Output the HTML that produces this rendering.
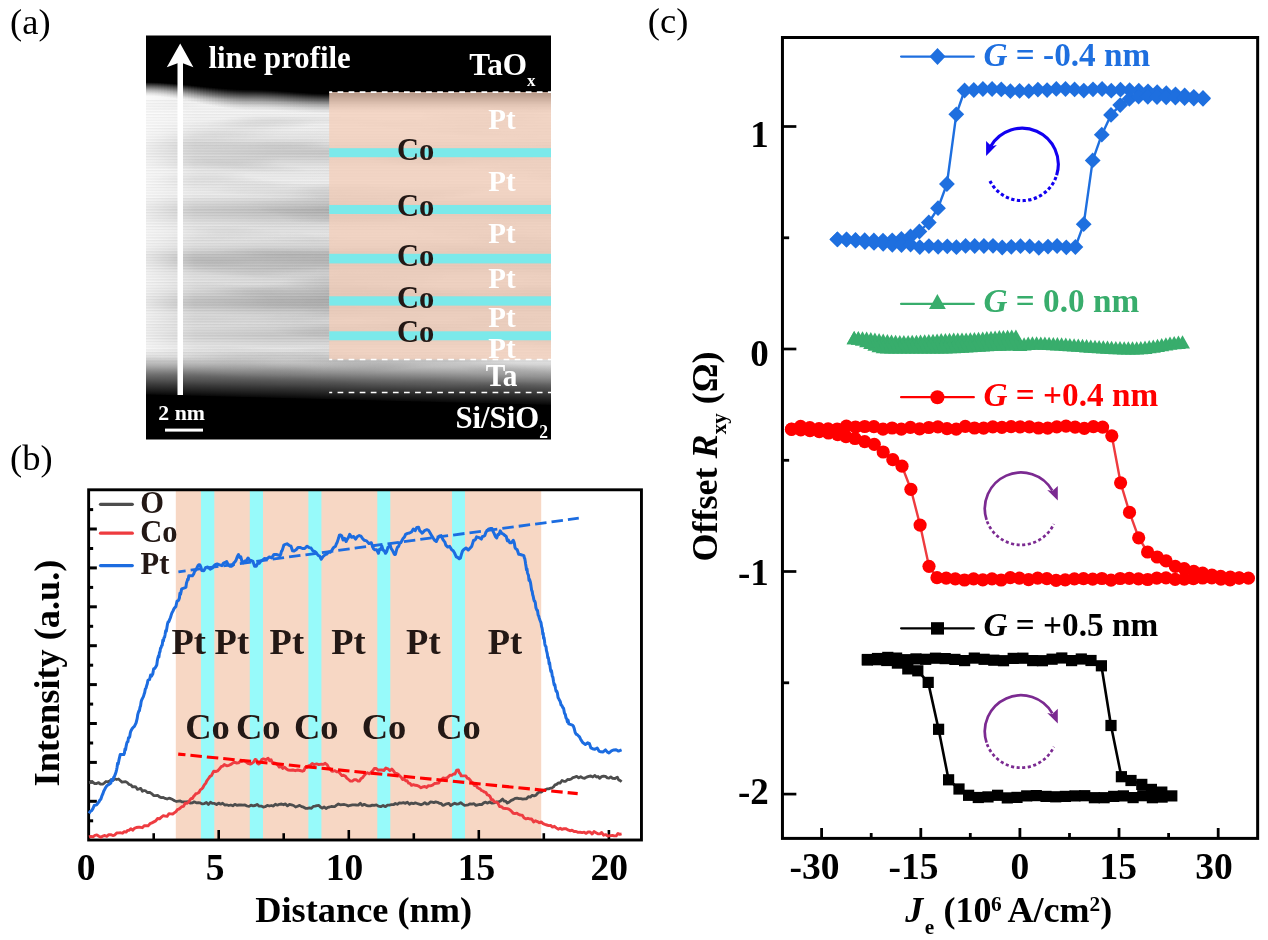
<!DOCTYPE html>
<html><head><meta charset="utf-8"><title>figure</title>
<style>html,body{margin:0;padding:0;background:#fff;}svg{display:block;opacity:0.999;}text{font-family:"Liberation Serif",serif;}</style></head><body>
<svg width="1268" height="940" viewBox="0 0 1268 940">

<defs>
<linearGradient id="temg" x1="0" y1="80" x2="0" y2="402" gradientUnits="userSpaceOnUse">
<stop offset="0.0000" stop-color="rgb(236,236,236)"/>
<stop offset="0.0870" stop-color="rgb(242,242,242)"/>
<stop offset="0.1398" stop-color="rgb(240,240,240)"/>
<stop offset="0.1801" stop-color="rgb(234,234,234)"/>
<stop offset="0.2050" stop-color="rgb(214,214,214)"/>
<stop offset="0.2236" stop-color="rgb(198,198,198)"/>
<stop offset="0.2422" stop-color="rgb(208,208,208)"/>
<stop offset="0.2671" stop-color="rgb(228,228,228)"/>
<stop offset="0.3106" stop-color="rgb(238,238,238)"/>
<stop offset="0.3571" stop-color="rgb(230,230,230)"/>
<stop offset="0.3820" stop-color="rgb(204,204,204)"/>
<stop offset="0.4037" stop-color="rgb(186,186,186)"/>
<stop offset="0.4224" stop-color="rgb(196,196,196)"/>
<stop offset="0.4472" stop-color="rgb(218,218,218)"/>
<stop offset="0.4814" stop-color="rgb(230,230,230)"/>
<stop offset="0.5155" stop-color="rgb(212,212,212)"/>
<stop offset="0.5404" stop-color="rgb(186,186,186)"/>
<stop offset="0.5590" stop-color="rgb(178,178,178)"/>
<stop offset="0.5776" stop-color="rgb(188,188,188)"/>
<stop offset="0.6056" stop-color="rgb(212,212,212)"/>
<stop offset="0.6366" stop-color="rgb(218,218,218)"/>
<stop offset="0.6615" stop-color="rgb(196,196,196)"/>
<stop offset="0.6832" stop-color="rgb(174,174,174)"/>
<stop offset="0.7019" stop-color="rgb(180,180,180)"/>
<stop offset="0.7267" stop-color="rgb(206,206,206)"/>
<stop offset="0.7516" stop-color="rgb(216,216,216)"/>
<stop offset="0.7733" stop-color="rgb(206,206,206)"/>
<stop offset="0.7919" stop-color="rgb(196,196,196)"/>
<stop offset="0.8106" stop-color="rgb(208,208,208)"/>
<stop offset="0.8323" stop-color="rgb(228,228,228)"/>
<stop offset="0.8634" stop-color="rgb(234,234,234)"/>
<stop offset="1.0000" stop-color="rgb(228,228,228)"/>
</linearGradient>
<linearGradient id="temh" x1="146" y1="0" x2="551" y2="0" gradientUnits="userSpaceOnUse">
<stop offset="0" stop-color="#fff" stop-opacity="0.75"/>
<stop offset="0.05" stop-color="#fff" stop-opacity="0.55"/>
<stop offset="0.12" stop-color="#fff" stop-opacity="0.25"/>
<stop offset="0.3" stop-color="#fff" stop-opacity="0.08"/>
<stop offset="0.5" stop-color="#fff" stop-opacity="0"/>
<stop offset="1" stop-color="#fff" stop-opacity="0"/>
</linearGradient>
<linearGradient id="fadeT" x1="250" y1="81" x2="249.2" y2="109" gradientUnits="userSpaceOnUse">
<stop offset="0" stop-color="#000" stop-opacity="1"/>
<stop offset="0.15" stop-color="#000" stop-opacity="0.97"/>
<stop offset="0.4" stop-color="#000" stop-opacity="0.6"/>
<stop offset="0.7" stop-color="#000" stop-opacity="0.18"/>
<stop offset="1" stop-color="#000" stop-opacity="0"/>
</linearGradient>
<linearGradient id="fadeU" x1="0" y1="0" x2="0" y2="1">
<stop offset="0" stop-color="#000" stop-opacity="1"/>
<stop offset="0.12" stop-color="#000" stop-opacity="0.94"/>
<stop offset="0.35" stop-color="#000" stop-opacity="0.62"/>
<stop offset="0.6" stop-color="#000" stop-opacity="0.3"/>
<stop offset="0.82" stop-color="#000" stop-opacity="0.1"/>
<stop offset="1" stop-color="#000" stop-opacity="0"/>
</linearGradient>
<linearGradient id="fadeD" x1="0" y1="0" x2="0" y2="1">
<stop offset="0" stop-color="#000" stop-opacity="0"/>
<stop offset="0.15" stop-color="#000" stop-opacity="0.08"/>
<stop offset="0.35" stop-color="#000" stop-opacity="0.3"/>
<stop offset="0.55" stop-color="#000" stop-opacity="0.55"/>
<stop offset="0.75" stop-color="#000" stop-opacity="0.76"/>
<stop offset="0.9" stop-color="#000" stop-opacity="0.9"/>
<stop offset="1" stop-color="#000" stop-opacity="1"/>
</linearGradient>
<linearGradient id="fadeB" x1="348.5" y1="353" x2="347.7" y2="400" gradientUnits="userSpaceOnUse">
<stop offset="0" stop-color="#000" stop-opacity="0"/>
<stop offset="0.25" stop-color="#000" stop-opacity="0.12"/>
<stop offset="0.5" stop-color="#000" stop-opacity="0.4"/>
<stop offset="0.75" stop-color="#000" stop-opacity="0.78"/>
<stop offset="0.92" stop-color="#000" stop-opacity="0.97"/>
<stop offset="1" stop-color="#000" stop-opacity="1"/>
</linearGradient>
<pattern id="fringe" x="0" y="100" width="20" height="2.8" patternUnits="userSpaceOnUse">
<rect x="0" y="0" width="20" height="1.3" fill="#000" opacity="0.05"/>
<rect x="0" y="1.4" width="20" height="1.4" fill="#fff" opacity="0.08"/>
</pattern>
<filter id="streak" x="0" y="0" width="1" height="1" color-interpolation-filters="sRGB">
<feTurbulence type="fractalNoise" baseFrequency="0.007 0.06" numOctaves="2" seed="11" result="n"/>
<feColorMatrix in="n" type="matrix" values="0 0 0 0 0.3  0 0 0 0 0.3  0 0 0 0 0.3  1.6 0 0 0 -0.72"/>
</filter>
</defs>

<rect width="1268" height="940" fill="#fff"/>
<g id="pa">
<rect x="146" y="35.5" width="405" height="404.0" fill="#000"/>
<rect x="146" y="80" width="405" height="328" fill="url(#temg)"/>
<rect x="146" y="80" width="405" height="328" filter="url(#streak)" opacity="0.26"/>
<rect x="146" y="80" width="405" height="328" fill="url(#temh)"/>
<rect x="146" y="100" width="405" height="262" fill="url(#fringe)"/>
<rect x="146" y="76" width="3" height="6.60" fill="#000"/>
<rect x="146" y="81.00" width="3" height="15.00" fill="url(#fadeU)"/>
<rect x="149" y="76" width="3" height="6.64" fill="#000"/>
<rect x="149" y="81.04" width="3" height="15.04" fill="url(#fadeU)"/>
<rect x="152" y="76" width="3" height="6.71" fill="#000"/>
<rect x="152" y="81.11" width="3" height="15.10" fill="url(#fadeU)"/>
<rect x="155" y="76" width="3" height="6.81" fill="#000"/>
<rect x="155" y="81.21" width="3" height="15.19" fill="url(#fadeU)"/>
<rect x="158" y="76" width="3" height="6.95" fill="#000"/>
<rect x="158" y="81.35" width="3" height="15.30" fill="url(#fadeU)"/>
<rect x="161" y="76" width="3" height="7.11" fill="#000"/>
<rect x="161" y="81.51" width="3" height="15.44" fill="url(#fadeU)"/>
<rect x="164" y="76" width="3" height="7.29" fill="#000"/>
<rect x="164" y="81.69" width="3" height="15.60" fill="url(#fadeU)"/>
<rect x="167" y="76" width="3" height="7.50" fill="#000"/>
<rect x="167" y="81.90" width="3" height="15.78" fill="url(#fadeU)"/>
<rect x="170" y="76" width="3" height="7.73" fill="#000"/>
<rect x="170" y="82.13" width="3" height="15.98" fill="url(#fadeU)"/>
<rect x="173" y="76" width="3" height="7.98" fill="#000"/>
<rect x="173" y="82.38" width="3" height="16.20" fill="url(#fadeU)"/>
<rect x="176" y="76" width="3" height="8.25" fill="#000"/>
<rect x="176" y="82.65" width="3" height="16.43" fill="url(#fadeU)"/>
<rect x="179" y="76" width="3" height="8.53" fill="#000"/>
<rect x="179" y="82.93" width="3" height="16.67" fill="url(#fadeU)"/>
<rect x="182" y="76" width="3" height="8.82" fill="#000"/>
<rect x="182" y="83.22" width="3" height="16.93" fill="url(#fadeU)"/>
<rect x="185" y="76" width="3" height="9.13" fill="#000"/>
<rect x="185" y="83.53" width="3" height="17.19" fill="url(#fadeU)"/>
<rect x="188" y="76" width="3" height="9.44" fill="#000"/>
<rect x="188" y="83.84" width="3" height="17.46" fill="url(#fadeU)"/>
<rect x="191" y="76" width="3" height="9.76" fill="#000"/>
<rect x="191" y="84.16" width="3" height="17.74" fill="url(#fadeU)"/>
<rect x="194" y="76" width="3" height="10.08" fill="#000"/>
<rect x="194" y="84.48" width="3" height="18.02" fill="url(#fadeU)"/>
<rect x="197" y="76" width="3" height="10.40" fill="#000"/>
<rect x="197" y="84.80" width="3" height="18.30" fill="url(#fadeU)"/>
<rect x="200" y="76" width="3" height="10.73" fill="#000"/>
<rect x="200" y="85.13" width="3" height="18.58" fill="url(#fadeU)"/>
<rect x="203" y="76" width="3" height="11.05" fill="#000"/>
<rect x="203" y="85.45" width="3" height="18.86" fill="url(#fadeU)"/>
<rect x="206" y="76" width="3" height="11.37" fill="#000"/>
<rect x="206" y="85.77" width="3" height="19.13" fill="url(#fadeU)"/>
<rect x="209" y="76" width="3" height="11.68" fill="#000"/>
<rect x="209" y="86.08" width="3" height="19.40" fill="url(#fadeU)"/>
<rect x="212" y="76" width="3" height="11.98" fill="#000"/>
<rect x="212" y="86.38" width="3" height="19.66" fill="url(#fadeU)"/>
<rect x="215" y="76" width="3" height="12.27" fill="#000"/>
<rect x="215" y="86.67" width="3" height="19.91" fill="url(#fadeU)"/>
<rect x="218" y="76" width="3" height="12.54" fill="#000"/>
<rect x="218" y="86.94" width="3" height="20.15" fill="url(#fadeU)"/>
<rect x="221" y="76" width="3" height="12.80" fill="#000"/>
<rect x="221" y="87.20" width="3" height="20.38" fill="url(#fadeU)"/>
<rect x="224" y="76" width="3" height="13.05" fill="#000"/>
<rect x="224" y="87.45" width="3" height="20.59" fill="url(#fadeU)"/>
<rect x="227" y="76" width="3" height="13.27" fill="#000"/>
<rect x="227" y="87.67" width="3" height="20.78" fill="url(#fadeU)"/>
<rect x="230" y="76" width="3" height="13.47" fill="#000"/>
<rect x="230" y="87.87" width="3" height="20.96" fill="url(#fadeU)"/>
<rect x="233" y="76" width="3" height="13.65" fill="#000"/>
<rect x="233" y="88.05" width="3" height="21.11" fill="url(#fadeU)"/>
<rect x="236" y="76" width="3" height="13.80" fill="#000"/>
<rect x="236" y="88.20" width="3" height="21.24" fill="url(#fadeU)"/>
<rect x="239" y="76" width="3" height="13.92" fill="#000"/>
<rect x="239" y="88.32" width="3" height="21.35" fill="url(#fadeU)"/>
<rect x="242" y="76" width="3" height="14.02" fill="#000"/>
<rect x="242" y="88.42" width="3" height="21.43" fill="url(#fadeU)"/>
<rect x="245" y="76" width="3" height="14.08" fill="#000"/>
<rect x="245" y="88.48" width="3" height="21.48" fill="url(#fadeU)"/>
<rect x="248" y="76" width="3" height="14.10" fill="#000"/>
<rect x="248" y="88.50" width="3" height="21.50" fill="url(#fadeU)"/>
<rect x="251" y="76" width="3" height="14.11" fill="#000"/>
<rect x="251" y="88.51" width="3" height="21.50" fill="url(#fadeU)"/>
<rect x="254" y="76" width="3" height="14.15" fill="#000"/>
<rect x="254" y="88.55" width="3" height="21.49" fill="url(#fadeU)"/>
<rect x="257" y="76" width="3" height="14.23" fill="#000"/>
<rect x="257" y="88.63" width="3" height="21.47" fill="url(#fadeU)"/>
<rect x="260" y="76" width="3" height="14.32" fill="#000"/>
<rect x="260" y="88.72" width="3" height="21.44" fill="url(#fadeU)"/>
<rect x="263" y="76" width="3" height="14.45" fill="#000"/>
<rect x="263" y="88.85" width="3" height="21.41" fill="url(#fadeU)"/>
<rect x="266" y="76" width="3" height="14.59" fill="#000"/>
<rect x="266" y="88.99" width="3" height="21.38" fill="url(#fadeU)"/>
<rect x="269" y="76" width="3" height="14.75" fill="#000"/>
<rect x="269" y="89.15" width="3" height="21.34" fill="url(#fadeU)"/>
<rect x="272" y="76" width="3" height="14.93" fill="#000"/>
<rect x="272" y="89.33" width="3" height="21.29" fill="url(#fadeU)"/>
<rect x="275" y="76" width="3" height="15.13" fill="#000"/>
<rect x="275" y="89.53" width="3" height="21.24" fill="url(#fadeU)"/>
<rect x="278" y="76" width="3" height="15.33" fill="#000"/>
<rect x="278" y="89.73" width="3" height="21.19" fill="url(#fadeU)"/>
<rect x="281" y="76" width="3" height="15.54" fill="#000"/>
<rect x="281" y="89.94" width="3" height="21.14" fill="url(#fadeU)"/>
<rect x="284" y="76" width="3" height="15.76" fill="#000"/>
<rect x="284" y="90.16" width="3" height="21.08" fill="url(#fadeU)"/>
<rect x="287" y="76" width="3" height="15.99" fill="#000"/>
<rect x="287" y="90.39" width="3" height="21.03" fill="url(#fadeU)"/>
<rect x="290" y="76" width="3" height="16.21" fill="#000"/>
<rect x="290" y="90.61" width="3" height="20.97" fill="url(#fadeU)"/>
<rect x="293" y="76" width="3" height="16.44" fill="#000"/>
<rect x="293" y="90.84" width="3" height="20.92" fill="url(#fadeU)"/>
<rect x="296" y="76" width="3" height="16.66" fill="#000"/>
<rect x="296" y="91.06" width="3" height="20.86" fill="url(#fadeU)"/>
<rect x="299" y="76" width="3" height="16.87" fill="#000"/>
<rect x="299" y="91.27" width="3" height="20.81" fill="url(#fadeU)"/>
<rect x="302" y="76" width="3" height="17.07" fill="#000"/>
<rect x="302" y="91.47" width="3" height="20.76" fill="url(#fadeU)"/>
<rect x="305" y="76" width="3" height="17.27" fill="#000"/>
<rect x="305" y="91.67" width="3" height="20.71" fill="url(#fadeU)"/>
<rect x="308" y="76" width="3" height="17.45" fill="#000"/>
<rect x="308" y="91.85" width="3" height="20.66" fill="url(#fadeU)"/>
<rect x="311" y="76" width="3" height="17.61" fill="#000"/>
<rect x="311" y="92.01" width="3" height="20.62" fill="url(#fadeU)"/>
<rect x="314" y="76" width="3" height="17.75" fill="#000"/>
<rect x="314" y="92.15" width="3" height="20.59" fill="url(#fadeU)"/>
<rect x="317" y="76" width="3" height="17.88" fill="#000"/>
<rect x="317" y="92.28" width="3" height="20.56" fill="url(#fadeU)"/>
<rect x="320" y="76" width="3" height="17.97" fill="#000"/>
<rect x="320" y="92.37" width="3" height="20.53" fill="url(#fadeU)"/>
<rect x="323" y="76" width="3" height="18.05" fill="#000"/>
<rect x="323" y="92.45" width="3" height="20.51" fill="url(#fadeU)"/>
<rect x="326" y="76" width="3" height="18.09" fill="#000"/>
<rect x="326" y="92.49" width="3" height="20.50" fill="url(#fadeU)"/>
<rect x="329" y="76" width="222" height="18.10" fill="#000"/>
<rect x="329" y="92.50" width="222" height="20.50" fill="url(#fadeU)"/>
<rect x="146" y="349.05" width="5" height="47.02" fill="url(#fadeD)"/>
<rect x="146" y="394.56" width="5" height="17.44" fill="#000"/>
<rect x="151" y="349.15" width="5" height="47.05" fill="url(#fadeD)"/>
<rect x="151" y="394.69" width="5" height="17.31" fill="#000"/>
<rect x="156" y="349.25" width="5" height="47.08" fill="url(#fadeD)"/>
<rect x="156" y="394.82" width="5" height="17.18" fill="#000"/>
<rect x="161" y="349.35" width="5" height="47.11" fill="url(#fadeD)"/>
<rect x="161" y="394.95" width="5" height="17.05" fill="#000"/>
<rect x="166" y="349.44" width="5" height="47.14" fill="url(#fadeD)"/>
<rect x="166" y="395.08" width="5" height="16.92" fill="#000"/>
<rect x="171" y="349.54" width="5" height="47.17" fill="url(#fadeD)"/>
<rect x="171" y="395.21" width="5" height="16.79" fill="#000"/>
<rect x="176" y="349.64" width="5" height="47.20" fill="url(#fadeD)"/>
<rect x="176" y="395.34" width="5" height="16.66" fill="#000"/>
<rect x="181" y="349.74" width="5" height="47.23" fill="url(#fadeD)"/>
<rect x="181" y="395.47" width="5" height="16.53" fill="#000"/>
<rect x="186" y="349.84" width="5" height="47.26" fill="url(#fadeD)"/>
<rect x="186" y="395.60" width="5" height="16.40" fill="#000"/>
<rect x="191" y="349.94" width="5" height="47.29" fill="url(#fadeD)"/>
<rect x="191" y="395.73" width="5" height="16.27" fill="#000"/>
<rect x="196" y="350.04" width="5" height="47.32" fill="url(#fadeD)"/>
<rect x="196" y="395.86" width="5" height="16.14" fill="#000"/>
<rect x="201" y="350.14" width="5" height="47.35" fill="url(#fadeD)"/>
<rect x="201" y="395.99" width="5" height="16.01" fill="#000"/>
<rect x="206" y="350.23" width="5" height="47.39" fill="url(#fadeD)"/>
<rect x="206" y="396.12" width="5" height="15.88" fill="#000"/>
<rect x="211" y="350.33" width="5" height="47.42" fill="url(#fadeD)"/>
<rect x="211" y="396.25" width="5" height="15.75" fill="#000"/>
<rect x="216" y="350.43" width="5" height="47.45" fill="url(#fadeD)"/>
<rect x="216" y="396.38" width="5" height="15.62" fill="#000"/>
<rect x="221" y="350.53" width="5" height="47.48" fill="url(#fadeD)"/>
<rect x="221" y="396.51" width="5" height="15.49" fill="#000"/>
<rect x="226" y="350.63" width="5" height="47.51" fill="url(#fadeD)"/>
<rect x="226" y="396.64" width="5" height="15.36" fill="#000"/>
<rect x="231" y="350.73" width="5" height="47.54" fill="url(#fadeD)"/>
<rect x="231" y="396.77" width="5" height="15.23" fill="#000"/>
<rect x="236" y="350.83" width="5" height="47.57" fill="url(#fadeD)"/>
<rect x="236" y="396.90" width="5" height="15.10" fill="#000"/>
<rect x="241" y="350.93" width="5" height="47.60" fill="url(#fadeD)"/>
<rect x="241" y="397.03" width="5" height="14.97" fill="#000"/>
<rect x="246" y="351.02" width="5" height="47.63" fill="url(#fadeD)"/>
<rect x="246" y="397.16" width="5" height="14.84" fill="#000"/>
<rect x="251" y="351.12" width="5" height="47.66" fill="url(#fadeD)"/>
<rect x="251" y="397.29" width="5" height="14.71" fill="#000"/>
<rect x="256" y="351.22" width="5" height="47.69" fill="url(#fadeD)"/>
<rect x="256" y="397.42" width="5" height="14.58" fill="#000"/>
<rect x="261" y="351.32" width="5" height="47.73" fill="url(#fadeD)"/>
<rect x="261" y="397.55" width="5" height="14.45" fill="#000"/>
<rect x="266" y="351.42" width="5" height="47.76" fill="url(#fadeD)"/>
<rect x="266" y="397.68" width="5" height="14.32" fill="#000"/>
<rect x="271" y="351.52" width="5" height="47.79" fill="url(#fadeD)"/>
<rect x="271" y="397.81" width="5" height="14.19" fill="#000"/>
<rect x="276" y="351.62" width="5" height="47.82" fill="url(#fadeD)"/>
<rect x="276" y="397.94" width="5" height="14.06" fill="#000"/>
<rect x="281" y="351.72" width="5" height="47.85" fill="url(#fadeD)"/>
<rect x="281" y="398.06" width="5" height="13.94" fill="#000"/>
<rect x="286" y="351.81" width="5" height="47.88" fill="url(#fadeD)"/>
<rect x="286" y="398.19" width="5" height="13.81" fill="#000"/>
<rect x="291" y="351.91" width="5" height="47.91" fill="url(#fadeD)"/>
<rect x="291" y="398.32" width="5" height="13.68" fill="#000"/>
<rect x="296" y="352.01" width="5" height="47.94" fill="url(#fadeD)"/>
<rect x="296" y="398.45" width="5" height="13.55" fill="#000"/>
<rect x="301" y="352.11" width="5" height="47.97" fill="url(#fadeD)"/>
<rect x="301" y="398.58" width="5" height="13.42" fill="#000"/>
<rect x="306" y="352.21" width="5" height="48.00" fill="url(#fadeD)"/>
<rect x="306" y="398.71" width="5" height="13.29" fill="#000"/>
<rect x="311" y="352.31" width="5" height="48.03" fill="url(#fadeD)"/>
<rect x="311" y="398.84" width="5" height="13.16" fill="#000"/>
<rect x="316" y="352.41" width="5" height="48.06" fill="url(#fadeD)"/>
<rect x="316" y="398.97" width="5" height="13.03" fill="#000"/>
<rect x="321" y="352.51" width="5" height="48.10" fill="url(#fadeD)"/>
<rect x="321" y="399.10" width="5" height="12.90" fill="#000"/>
<rect x="326" y="352.60" width="5" height="48.13" fill="url(#fadeD)"/>
<rect x="326" y="399.23" width="5" height="12.77" fill="#000"/>
<rect x="331" y="352.70" width="5" height="48.16" fill="url(#fadeD)"/>
<rect x="331" y="399.36" width="5" height="12.64" fill="#000"/>
<rect x="336" y="352.80" width="5" height="48.19" fill="url(#fadeD)"/>
<rect x="336" y="399.49" width="5" height="12.51" fill="#000"/>
<rect x="341" y="352.90" width="5" height="48.22" fill="url(#fadeD)"/>
<rect x="341" y="399.62" width="5" height="12.38" fill="#000"/>
<rect x="346" y="353.00" width="5" height="48.25" fill="url(#fadeD)"/>
<rect x="346" y="399.75" width="5" height="12.25" fill="#000"/>
<rect x="351" y="353.10" width="5" height="48.28" fill="url(#fadeD)"/>
<rect x="351" y="399.88" width="5" height="12.12" fill="#000"/>
<rect x="356" y="353.20" width="5" height="48.31" fill="url(#fadeD)"/>
<rect x="356" y="400.01" width="5" height="11.99" fill="#000"/>
<rect x="361" y="353.30" width="5" height="48.34" fill="url(#fadeD)"/>
<rect x="361" y="400.14" width="5" height="11.86" fill="#000"/>
<rect x="366" y="353.40" width="5" height="48.37" fill="url(#fadeD)"/>
<rect x="366" y="400.27" width="5" height="11.73" fill="#000"/>
<rect x="371" y="353.49" width="5" height="48.40" fill="url(#fadeD)"/>
<rect x="371" y="400.40" width="5" height="11.60" fill="#000"/>
<rect x="376" y="353.59" width="5" height="48.44" fill="url(#fadeD)"/>
<rect x="376" y="400.53" width="5" height="11.47" fill="#000"/>
<rect x="381" y="353.69" width="5" height="48.47" fill="url(#fadeD)"/>
<rect x="381" y="400.66" width="5" height="11.34" fill="#000"/>
<rect x="386" y="353.79" width="5" height="48.50" fill="url(#fadeD)"/>
<rect x="386" y="400.79" width="5" height="11.21" fill="#000"/>
<rect x="391" y="353.89" width="5" height="48.53" fill="url(#fadeD)"/>
<rect x="391" y="400.92" width="5" height="11.08" fill="#000"/>
<rect x="396" y="353.99" width="5" height="48.56" fill="url(#fadeD)"/>
<rect x="396" y="401.05" width="5" height="10.95" fill="#000"/>
<rect x="401" y="354.09" width="5" height="48.59" fill="url(#fadeD)"/>
<rect x="401" y="401.18" width="5" height="10.82" fill="#000"/>
<rect x="406" y="354.19" width="5" height="48.62" fill="url(#fadeD)"/>
<rect x="406" y="401.31" width="5" height="10.69" fill="#000"/>
<rect x="411" y="354.28" width="5" height="48.65" fill="url(#fadeD)"/>
<rect x="411" y="401.44" width="5" height="10.56" fill="#000"/>
<rect x="416" y="354.38" width="5" height="48.68" fill="url(#fadeD)"/>
<rect x="416" y="401.56" width="5" height="10.44" fill="#000"/>
<rect x="421" y="354.48" width="5" height="48.71" fill="url(#fadeD)"/>
<rect x="421" y="401.69" width="5" height="10.31" fill="#000"/>
<rect x="426" y="354.58" width="5" height="48.74" fill="url(#fadeD)"/>
<rect x="426" y="401.82" width="5" height="10.18" fill="#000"/>
<rect x="431" y="354.68" width="5" height="48.77" fill="url(#fadeD)"/>
<rect x="431" y="401.95" width="5" height="10.05" fill="#000"/>
<rect x="436" y="354.78" width="5" height="48.81" fill="url(#fadeD)"/>
<rect x="436" y="402.08" width="5" height="9.92" fill="#000"/>
<rect x="441" y="354.88" width="5" height="48.84" fill="url(#fadeD)"/>
<rect x="441" y="402.21" width="5" height="9.79" fill="#000"/>
<rect x="446" y="354.98" width="5" height="48.87" fill="url(#fadeD)"/>
<rect x="446" y="402.34" width="5" height="9.66" fill="#000"/>
<rect x="451" y="355.07" width="5" height="48.90" fill="url(#fadeD)"/>
<rect x="451" y="402.47" width="5" height="9.53" fill="#000"/>
<rect x="456" y="355.17" width="5" height="48.93" fill="url(#fadeD)"/>
<rect x="456" y="402.60" width="5" height="9.40" fill="#000"/>
<rect x="461" y="355.27" width="5" height="48.96" fill="url(#fadeD)"/>
<rect x="461" y="402.73" width="5" height="9.27" fill="#000"/>
<rect x="466" y="355.37" width="5" height="48.99" fill="url(#fadeD)"/>
<rect x="466" y="402.86" width="5" height="9.14" fill="#000"/>
<rect x="471" y="355.47" width="5" height="49.02" fill="url(#fadeD)"/>
<rect x="471" y="402.99" width="5" height="9.01" fill="#000"/>
<rect x="476" y="355.57" width="5" height="49.05" fill="url(#fadeD)"/>
<rect x="476" y="403.12" width="5" height="8.88" fill="#000"/>
<rect x="481" y="355.67" width="5" height="49.08" fill="url(#fadeD)"/>
<rect x="481" y="403.25" width="5" height="8.75" fill="#000"/>
<rect x="486" y="355.77" width="5" height="49.11" fill="url(#fadeD)"/>
<rect x="486" y="403.38" width="5" height="8.62" fill="#000"/>
<rect x="491" y="355.86" width="5" height="49.15" fill="url(#fadeD)"/>
<rect x="491" y="403.51" width="5" height="8.49" fill="#000"/>
<rect x="496" y="355.96" width="5" height="49.18" fill="url(#fadeD)"/>
<rect x="496" y="403.64" width="5" height="8.36" fill="#000"/>
<rect x="501" y="356.06" width="5" height="49.21" fill="url(#fadeD)"/>
<rect x="501" y="403.77" width="5" height="8.23" fill="#000"/>
<rect x="506" y="356.16" width="5" height="49.24" fill="url(#fadeD)"/>
<rect x="506" y="403.90" width="5" height="8.10" fill="#000"/>
<rect x="511" y="356.26" width="5" height="49.27" fill="url(#fadeD)"/>
<rect x="511" y="404.03" width="5" height="7.97" fill="#000"/>
<rect x="516" y="356.36" width="5" height="49.30" fill="url(#fadeD)"/>
<rect x="516" y="404.16" width="5" height="7.84" fill="#000"/>
<rect x="521" y="356.46" width="5" height="49.33" fill="url(#fadeD)"/>
<rect x="521" y="404.29" width="5" height="7.71" fill="#000"/>
<rect x="526" y="356.56" width="5" height="49.36" fill="url(#fadeD)"/>
<rect x="526" y="404.42" width="5" height="7.58" fill="#000"/>
<rect x="531" y="356.65" width="5" height="49.39" fill="url(#fadeD)"/>
<rect x="531" y="404.55" width="5" height="7.45" fill="#000"/>
<rect x="536" y="356.75" width="5" height="49.42" fill="url(#fadeD)"/>
<rect x="536" y="404.68" width="5" height="7.32" fill="#000"/>
<rect x="541" y="356.85" width="5" height="49.45" fill="url(#fadeD)"/>
<rect x="541" y="404.81" width="5" height="7.19" fill="#000"/>
<rect x="546" y="356.95" width="5" height="49.48" fill="url(#fadeD)"/>
<rect x="546" y="404.94" width="5" height="7.06" fill="#000"/>
<rect x="329.2" y="92" width="221.8" height="267.5" fill="rgb(245,207,185)" opacity="0.76"/>
<rect x="329.2" y="148.2" width="221.8" height="9.0" fill="#7BE9EA"/>
<rect x="329.2" y="205" width="221.8" height="9.0" fill="#7BE9EA"/>
<rect x="329.2" y="253.8" width="221.8" height="9.6" fill="#7BE9EA"/>
<rect x="329.2" y="296.3" width="221.8" height="9.3" fill="#7BE9EA"/>
<rect x="329.2" y="331.3" width="221.8" height="9.0" fill="#7BE9EA"/>
<line x1="329.2" y1="92.1" x2="551" y2="92.1" stroke="#fff" stroke-width="1.9" stroke-dasharray="5.7 5.37" stroke-dashoffset="2.7"/>
<line x1="329.2" y1="359.5" x2="551" y2="359.5" stroke="#fff" stroke-width="1.6" stroke-dasharray="5.7 5.37" stroke-dashoffset="2.7"/>
<line x1="329.2" y1="392.4" x2="551" y2="392.4" stroke="#fff" stroke-width="1.5" stroke-dasharray="5.7 5.37" stroke-dashoffset="2.7"/>
<rect x="177.5" y="62" width="5.5" height="333" fill="#fff"/>
<path d="M180.2 43.4 L193.4 67.2 L180.2 62.3 L166.8 67.2 Z" fill="#fff"/>
<rect x="165" y="428.6" width="38" height="3" fill="#fff"/>
<text x="158.3" y="419.6" font-size="21.8" font-weight="bold" fill="#fff" >2 nm</text>
<text x="208.5" y="68.3" font-size="30.8" font-weight="bold" fill="#fff" >line profile</text>
<text transform="translate(469.2,75.3) scale(1,1.04)" font-size="31.2" font-weight="bold" fill="#fff">TaO<tspan font-size="17" dy="10.2">x</tspan></text>
<text x="488.3" y="129" font-size="29" font-weight="bold" fill="#fff" >Pt</text>
<text x="488.3" y="190.5" font-size="29" font-weight="bold" fill="#fff" >Pt</text>
<text x="488.3" y="243.2" font-size="29" font-weight="bold" fill="#fff" >Pt</text>
<text x="488.3" y="288" font-size="29" font-weight="bold" fill="#fff" >Pt</text>
<text x="488.3" y="327" font-size="29" font-weight="bold" fill="#fff" >Pt</text>
<text x="488.3" y="358" font-size="29" font-weight="bold" fill="#fff" >Pt</text>
<text transform="translate(485.8,386.4) scale(0.97,1.07)" font-size="30.2" font-weight="bold" fill="#fff">Ta</text>
<text transform="translate(455.5,427.9) scale(1,1.05)" font-size="30.7" font-weight="bold" fill="#fff">Si/SiO<tspan font-size="17.5" dy="9.4" dx="0.2">2</tspan></text>
<text x="397" y="160" font-size="30.5" font-weight="bold" fill="#231815" >Co</text>
<text x="397" y="215.5" font-size="30.5" font-weight="bold" fill="#231815" >Co</text>
<text x="397" y="266" font-size="30.5" font-weight="bold" fill="#231815" >Co</text>
<text x="397" y="308" font-size="30.5" font-weight="bold" fill="#231815" >Co</text>
<text x="397" y="342" font-size="30.5" font-weight="bold" fill="#231815" >Co</text>
</g>
<g id="pb">
<rect x="175.8" y="489.8" width="365.4" height="350.2" fill="#F7D7C4"/>
<rect x="201" y="489.8" width="13.3" height="350.2" fill="#97FAFA"/>
<rect x="249.8" y="489.8" width="13.2" height="350.2" fill="#97FAFA"/>
<rect x="308.4" y="489.8" width="13.0" height="350.2" fill="#97FAFA"/>
<rect x="377.3" y="489.8" width="13.0" height="350.2" fill="#97FAFA"/>
<rect x="452" y="489.8" width="13.0" height="350.2" fill="#97FAFA"/>
<line x1="88.65" y1="801.3" x2="96.85000000000001" y2="801.3" stroke="#000" stroke-width="3"/>
<line x1="88.65" y1="820.8" x2="93.15" y2="820.8" stroke="#000" stroke-width="3"/>
<line x1="88.65" y1="762.4" x2="96.85000000000001" y2="762.4" stroke="#000" stroke-width="3"/>
<line x1="88.65" y1="781.9" x2="93.15" y2="781.9" stroke="#000" stroke-width="3"/>
<line x1="88.65" y1="723.5" x2="96.85000000000001" y2="723.5" stroke="#000" stroke-width="3"/>
<line x1="88.65" y1="743.0" x2="93.15" y2="743.0" stroke="#000" stroke-width="3"/>
<line x1="88.65" y1="684.6" x2="96.85000000000001" y2="684.6" stroke="#000" stroke-width="3"/>
<line x1="88.65" y1="704.1" x2="93.15" y2="704.1" stroke="#000" stroke-width="3"/>
<line x1="88.65" y1="645.7" x2="96.85000000000001" y2="645.7" stroke="#000" stroke-width="3"/>
<line x1="88.65" y1="665.2" x2="93.15" y2="665.2" stroke="#000" stroke-width="3"/>
<line x1="88.65" y1="606.8" x2="96.85000000000001" y2="606.8" stroke="#000" stroke-width="3"/>
<line x1="88.65" y1="626.3" x2="93.15" y2="626.3" stroke="#000" stroke-width="3"/>
<line x1="88.65" y1="567.9" x2="96.85000000000001" y2="567.9" stroke="#000" stroke-width="3"/>
<line x1="88.65" y1="587.4" x2="93.15" y2="587.4" stroke="#000" stroke-width="3"/>
<line x1="88.65" y1="529.0" x2="96.85000000000001" y2="529.0" stroke="#000" stroke-width="3"/>
<line x1="88.65" y1="548.5" x2="93.15" y2="548.5" stroke="#000" stroke-width="3"/>
<line x1="88.65" y1="509.6" x2="93.15" y2="509.6" stroke="#000" stroke-width="3"/>
<line x1="153.7" y1="840.0" x2="153.7" y2="833.2" stroke="#000" stroke-width="2.6"/>
<line x1="218.7" y1="840.0" x2="218.7" y2="830.0" stroke="#000" stroke-width="2.6"/>
<line x1="283.7" y1="840.0" x2="283.7" y2="833.2" stroke="#000" stroke-width="2.6"/>
<line x1="348.8" y1="840.0" x2="348.8" y2="830.0" stroke="#000" stroke-width="2.6"/>
<line x1="413.8" y1="840.0" x2="413.8" y2="833.2" stroke="#000" stroke-width="2.6"/>
<line x1="478.8" y1="840.0" x2="478.8" y2="830.0" stroke="#000" stroke-width="2.6"/>
<line x1="543.8" y1="840.0" x2="543.8" y2="833.2" stroke="#000" stroke-width="2.6"/>
<line x1="608.9" y1="840.0" x2="608.9" y2="830.0" stroke="#000" stroke-width="2.6"/>
<rect x="88.65" y="489.8" width="552.8" height="350.2" fill="none" stroke="#000" stroke-width="2.9"/>
<path d="M89.0 782.5 L90.9 782.3 L92.8 782.1 L94.7 783.6 L96.6 783.5 L98.6 782.6 L100.5 784.1 L102.5 784.2 L104.3 783.1 L106.0 781.5 L107.8 781.9 L109.6 781.1 L111.4 779.5 L113.2 780.1 L114.9 778.8 L116.7 779.5 L118.5 779.0 L120.2 780.5 L122.0 782.1 L123.8 781.8 L125.6 781.6 L127.3 782.6 L129.1 784.5 L130.9 784.9 L132.5 786.9 L134.2 786.7 L135.8 787.0 L137.5 789.3 L139.1 788.9 L140.8 788.4 L142.4 791.3 L144.1 790.5 L145.7 790.9 L147.4 792.5 L149.5 792.3 L151.6 793.6 L153.6 795.6 L155.7 795.6 L157.6 795.3 L159.5 796.9 L161.4 797.6 L163.3 797.5 L165.2 798.4 L167.1 799.0 L169.0 798.2 L170.8 798.7 L172.7 799.6 L174.6 800.8 L176.5 801.5 L178.4 801.1 L180.3 801.0 L182.2 801.9 L184.1 801.9 L186.1 801.9 L188.2 801.6 L190.2 803.0 L192.2 802.9 L194.2 801.8 L196.3 802.8 L198.3 802.7 L200.3 802.9 L202.4 803.9 L204.4 803.6 L206.4 802.5 L208.4 804.4 L210.5 802.3 L212.5 803.4 L214.5 803.4 L216.6 804.5 L218.6 803.1 L220.6 804.2 L222.6 803.2 L224.7 805.0 L226.7 804.8 L228.7 805.5 L230.8 805.0 L232.8 805.8 L234.8 804.3 L236.8 805.3 L238.9 805.0 L240.9 804.8 L242.9 805.1 L245.0 804.9 L247.0 806.0 L249.0 806.4 L251.0 805.2 L253.1 805.8 L255.1 805.5 L257.1 804.4 L259.2 806.2 L261.2 806.1 L263.2 807.1 L265.2 806.7 L267.3 805.4 L269.3 806.0 L271.3 805.5 L273.4 806.1 L275.4 804.2 L277.4 805.2 L279.4 804.3 L281.5 804.0 L283.5 804.8 L285.5 803.9 L287.5 805.9 L289.5 804.4 L291.6 804.9 L293.6 805.5 L295.6 807.0 L297.6 806.2 L299.6 805.4 L301.6 806.6 L303.6 807.2 L305.5 808.3 L307.5 808.4 L309.5 807.9 L311.4 808.4 L313.3 806.4 L315.1 806.2 L317.0 805.6 L318.9 805.5 L320.7 807.3 L322.4 808.2 L324.2 806.9 L326.0 808.6 L327.8 807.3 L329.6 807.0 L331.3 806.5 L333.1 806.7 L334.9 806.5 L336.6 805.1 L338.4 804.0 L340.2 804.8 L342.2 804.6 L344.3 804.5 L346.3 805.0 L348.3 806.0 L350.3 805.3 L352.4 804.8 L354.4 804.8 L356.4 805.0 L358.3 805.1 L360.3 803.3 L362.2 805.4 L364.2 804.3 L366.2 805.3 L368.3 805.8 L370.3 805.9 L372.3 805.1 L374.3 805.4 L376.4 804.9 L378.4 806.2 L380.8 806.7 L383.1 805.4 L385.5 806.7 L387.5 805.2 L389.4 805.1 L391.4 804.6 L393.4 804.7 L395.3 803.5 L397.3 804.3 L399.3 802.8 L401.4 803.1 L403.4 802.7 L405.4 803.3 L407.4 802.2 L409.5 804.2 L411.5 803.1 L413.4 803.7 L415.3 802.9 L417.2 803.5 L419.1 804.1 L421.0 804.8 L422.9 803.9 L424.8 802.7 L426.6 804.0 L428.5 803.8 L430.4 801.9 L432.2 802.2 L433.9 802.6 L435.7 801.9 L437.5 802.3 L439.3 803.3 L441.1 803.5 L442.8 805.3 L444.6 804.8 L446.6 803.8 L448.7 803.3 L450.7 805.5 L452.7 804.3 L454.7 803.2 L456.8 804.1 L458.8 803.8 L460.7 802.7 L462.6 804.1 L464.5 805.3 L466.4 805.1 L468.3 804.8 L470.2 803.8 L472.1 804.2 L474.0 803.7 L475.9 805.4 L477.8 804.8 L479.8 804.4 L481.7 804.6 L483.7 802.9 L485.7 802.1 L487.6 803.2 L489.6 801.9 L492.0 803.2 L494.3 802.8 L496.7 801.9 L498.7 801.8 L500.6 800.9 L502.6 799.1 L504.2 801.1 L505.7 801.1 L507.3 803.1 L509.3 802.0 L511.2 800.4 L513.2 799.6 L515.1 798.3 L517.0 798.2 L518.9 798.7 L520.8 798.6 L522.7 799.1 L524.6 798.8 L526.5 798.8 L528.4 796.7 L530.3 797.2 L532.2 795.3 L534.1 795.9 L536.0 795.2 L537.8 793.0 L539.7 791.9 L541.6 792.0 L543.4 790.5 L545.2 789.7 L546.9 788.9 L548.7 788.9 L550.3 788.2 L551.9 788.0 L553.5 786.8 L555.0 784.9 L556.6 784.4 L558.2 783.0 L560.1 783.1 L562.0 780.5 L563.8 781.3 L565.7 781.3 L567.6 779.5 L569.4 779.6 L571.2 779.0 L572.9 777.6 L574.7 777.1 L576.7 776.3 L578.7 777.9 L580.7 776.7 L582.6 777.9 L584.6 778.3 L586.6 777.1 L588.7 776.4 L590.8 776.0 L592.8 777.0 L594.9 775.4 L596.5 777.0 L598.0 776.5 L599.6 778.3 L601.6 776.7 L603.5 776.1 L605.5 776.4 L607.3 777.9 L609.0 778.1 L610.8 776.9 L612.6 778.3 L615.0 778.5 L617.3 777.1 L618.7 779.9 L620.2 780.6 L621.6 781.8" fill="none" stroke="#4D4D4D" stroke-width="2.8" stroke-linejoin="round"/>
<path d="M89.0 837.0 L91.0 836.4 L93.0 836.8 L94.9 835.4 L96.9 834.9 L98.9 836.2 L100.9 837.3 L102.9 836.1 L104.8 835.5 L106.8 836.4 L108.8 834.7 L110.8 834.6 L112.8 835.5 L114.7 835.1 L116.7 833.0 L118.7 832.9 L120.6 832.8 L122.6 833.2 L124.3 831.7 L126.0 832.1 L127.7 830.4 L129.3 830.2 L131.0 828.7 L132.7 830.3 L134.4 828.4 L136.4 827.5 L138.3 827.3 L140.3 827.3 L142.3 827.7 L144.2 825.8 L146.2 825.6 L148.1 825.9 L150.0 823.7 L151.9 822.9 L153.8 821.9 L155.7 820.9 L157.6 818.5 L159.5 818.8 L161.4 817.1 L163.3 815.6 L165.2 816.1 L167.1 816.3 L169.0 813.7 L170.8 813.9 L172.7 814.0 L174.6 812.6 L176.0 811.6 L177.4 809.7 L178.9 809.1 L180.3 808.0 L181.7 806.7 L183.5 806.4 L185.2 803.1 L187.0 803.3 L188.8 801.9 L190.0 799.8 L191.2 798.5 L192.4 798.6 L193.5 796.5 L194.7 795.3 L195.9 793.7 L197.4 793.3 L198.9 792.5 L200.3 789.9 L201.8 788.9 L202.8 787.7 L203.8 785.8 L204.8 784.2 L205.8 783.2 L206.8 780.9 L207.8 779.5 L209.0 777.9 L210.2 776.1 L211.3 775.8 L212.5 773.5 L213.7 771.2 L215.7 771.5 L217.6 770.9 L219.6 768.8 L221.2 766.7 L222.7 766.2 L224.3 764.6 L226.7 765.8 L229.0 765.3 L231.4 764.1 L233.2 762.7 L234.9 762.4 L236.7 763.0 L238.5 762.9 L240.3 761.3 L242.1 761.5 L243.8 760.7 L245.6 761.7 L247.9 763.4 L250.3 764.1 L251.9 763.4 L253.5 762.2 L255.1 759.4 L256.3 759.9 L257.4 763.2 L258.6 764.1 L260.2 762.8 L261.7 759.6 L263.3 758.9 L265.7 759.7 L268.1 758.2 L269.6 760.8 L271.1 759.7 L272.5 763.1 L274.0 762.9 L275.8 763.5 L277.6 764.7 L279.3 767.1 L281.1 766.5 L282.9 768.4 L284.6 767.2 L286.4 768.9 L288.2 770.0 L290.6 770.3 L292.9 770.0 L295.3 770.7 L297.7 770.0 L300.0 770.5 L302.4 771.2 L303.9 770.6 L305.4 767.2 L306.8 767.5 L308.3 766.0 L310.3 765.4 L312.2 763.6 L314.2 764.6 L316.6 763.9 L318.9 764.6 L321.3 764.1 L323.3 764.4 L325.2 763.3 L327.2 764.8 L328.7 767.9 L330.1 768.9 L331.6 771.0 L333.1 771.2 L334.9 770.6 L336.6 771.7 L338.4 771.6 L340.2 773.6 L341.9 775.6 L343.5 775.3 L345.2 776.0 L346.8 778.1 L348.5 779.5 L350.4 781.1 L352.3 781.1 L354.2 779.7 L356.1 779.7 L358.0 781.1 L359.5 781.1 L360.9 778.7 L362.4 777.8 L363.9 775.9 L365.7 773.8 L367.4 772.8 L369.2 773.8 L371.0 772.4 L372.7 770.8 L374.3 768.5 L376.0 768.4 L378.0 770.2 L379.9 769.9 L381.9 770.0 L383.9 770.5 L385.9 768.0 L387.9 768.8 L389.9 770.7 L391.8 769.1 L393.8 771.2 L395.3 773.5 L396.8 773.4 L398.2 774.2 L399.7 775.9 L401.2 777.3 L402.6 779.6 L404.1 778.8 L405.6 780.7 L407.1 780.8 L408.6 783.1 L410.0 783.4 L411.5 785.4 L413.4 784.7 L415.3 785.3 L417.2 785.5 L419.1 786.4 L421.0 787.8 L422.9 786.9 L424.8 786.5 L426.6 787.4 L428.5 785.6 L430.4 785.9 L432.5 785.2 L434.5 783.5 L436.6 783.3 L438.7 783.0 L440.2 780.4 L441.6 779.9 L443.1 778.0 L444.6 778.3 L446.4 778.3 L448.1 777.0 L449.9 775.2 L451.7 775.4 L453.4 774.0 L455.0 774.0 L456.7 770.2 L458.4 770.0 L459.3 772.9 L460.3 773.7 L461.2 775.9 L463.5 775.9 L465.9 775.9 L467.3 778.3 L468.7 778.4 L470.2 780.2 L471.6 782.1 L473.0 783.0 L474.4 785.6 L475.8 784.9 L477.3 787.5 L478.7 788.3 L480.1 788.9 L481.5 790.5 L482.9 791.0 L484.4 792.0 L485.8 792.3 L487.2 794.8 L488.6 795.1 L490.0 796.4 L491.5 799.8 L492.9 799.7 L494.3 801.9 L496.1 802.1 L497.9 803.1 L499.6 806.5 L501.4 806.7 L503.4 808.4 L505.3 808.5 L507.3 808.6 L508.8 809.1 L510.2 810.2 L511.7 811.5 L513.2 813.3 L515.0 813.6 L516.8 813.1 L518.5 814.4 L520.3 815.0 L522.2 815.1 L524.1 818.0 L526.0 818.8 L527.9 818.3 L529.8 819.0 L531.7 819.0 L533.6 821.9 L535.5 820.7 L537.4 821.6 L539.3 822.8 L541.2 821.9 L543.1 823.6 L544.9 824.4 L546.8 825.0 L548.7 825.6 L550.6 825.4 L552.5 827.1 L554.4 826.3 L556.3 827.8 L558.2 829.2 L560.2 828.2 L562.1 829.4 L564.1 828.6 L566.1 828.8 L568.0 829.9 L570.0 830.8 L572.0 830.2 L574.1 831.5 L576.1 831.5 L578.1 832.4 L580.1 832.3 L582.2 832.6 L584.2 832.2 L586.2 833.4 L588.1 832.0 L590.1 831.9 L592.1 834.0 L594.0 831.6 L596.0 832.7 L597.9 833.8 L599.8 833.9 L601.7 832.5 L603.6 835.2 L605.5 834.6 L607.9 836.1 L610.2 835.6 L612.6 835.5 L614.4 835.9 L616.2 835.8 L618.0 833.5 L619.8 834.3 L621.6 833.9" fill="none" stroke="#EE3C41" stroke-width="2.9" stroke-linejoin="round"/>
<path d="M89.0 813.3 L90.3 811.4 L91.6 810.7 L92.9 808.6 L94.2 805.5 L96.6 804.9 L98.9 801.9 L99.9 800.1 L100.8 799.2 L101.8 796.2 L102.7 794.2 L103.7 791.3 L105.1 788.6 L106.5 786.2 L108.0 784.9 L109.4 784.1 L110.8 783.0 L111.7 779.6 L112.7 780.5 L113.6 777.6 L114.6 776.0 L115.5 773.6 L116.0 772.0 L116.5 770.1 L117.1 767.2 L117.6 763.3 L118.1 764.2 L118.6 761.9 L119.2 758.8 L119.7 756.8 L120.2 754.6 L123.8 754.6 L124.4 753.2 L125.0 749.0 L125.6 749.6 L126.2 745.8 L126.8 743.1 L127.3 741.9 L127.9 741.7 L128.5 737.7 L129.1 737.8 L129.7 736.7 L130.3 732.9 L130.9 731.0 L132.1 728.8 L133.2 727.4 L134.4 726.4 L135.6 723.9 L136.1 722.9 L136.7 720.3 L137.2 718.4 L137.8 714.3 L138.3 712.6 L138.9 711.0 L139.4 710.8 L140.0 707.2 L140.5 706.2 L141.1 702.0 L141.6 700.2 L142.2 699.0 L142.7 697.9 L143.4 696.6 L144.0 694.6 L144.7 692.6 L145.3 689.1 L146.0 688.0 L146.6 685.8 L147.3 683.8 L147.9 680.5 L148.6 679.9 L149.6 679.5 L150.6 675.0 L151.6 676.1 L152.7 674.1 L153.7 668.8 L154.7 668.6 L155.7 666.9 L156.2 666.2 L156.8 664.8 L157.3 660.9 L157.8 658.3 L158.4 656.1 L158.9 657.0 L159.5 652.2 L160.0 651.7 L160.5 648.1 L161.1 647.6 L161.6 645.6 L162.2 645.3 L162.8 640.3 L163.4 640.9 L164.0 637.7 L164.6 637.2 L165.1 634.5 L165.7 630.8 L166.3 631.3 L166.9 627.8 L167.5 624.0 L168.1 622.0 L168.7 621.9 L169.5 619.9 L170.4 617.7 L171.2 615.1 L172.1 612.5 L172.9 611.2 L173.8 609.1 L174.6 607.8 L175.8 606.7 L177.0 601.2 L178.2 600.7 L178.8 599.7 L179.4 598.0 L179.9 593.3 L180.5 594.4 L181.1 591.6 L181.7 588.8 L185.3 587.6 L185.9 587.2 L186.5 582.9 L187.1 581.2 L187.6 579.3 L188.2 579.7 L188.8 575.8 L192.4 575.8 L193.6 574.2 L194.7 571.3 L195.9 569.9 L196.9 567.9 L198.0 565.6 L199.0 564.7 L199.9 565.0 L200.9 567.1 L201.8 570.6 L203.8 570.7 L205.8 567.4 L207.8 567.0 L210.2 569.2 L212.5 568.0 L214.1 565.7 L215.6 564.4 L217.2 564.0 L219.6 564.8 L221.9 565.6 L223.5 563.1 L225.1 562.5 L226.7 561.6 L228.3 564.9 L229.8 566.2 L231.4 566.3 L232.6 565.5 L233.8 562.9 L234.9 562.0 L236.1 560.1 L237.3 556.7 L238.5 554.5 L239.7 557.4 L240.8 556.9 L242.0 561.6 L243.2 562.8 L244.8 561.0 L246.4 560.6 L248.0 558.0 L249.6 560.2 L251.3 560.5 L252.9 561.3 L254.6 566.3 L256.2 566.3 L257.7 563.4 L259.2 563.2 L260.7 561.3 L262.2 560.4 L264.6 558.5 L266.9 559.0 L269.3 556.9 L271.7 557.9 L274.0 554.4 L276.4 554.5 L279.9 555.7 L280.7 554.4 L281.5 551.2 L282.2 550.4 L283.0 547.9 L283.8 545.2 L284.6 544.6 L287.0 543.8 L289.4 545.5 L291.0 546.2 L292.5 550.7 L294.1 551.0 L296.1 549.8 L298.0 547.5 L300.0 547.4 L302.4 548.5 L304.7 548.5 L307.1 546.2 L309.1 547.6 L311.0 548.0 L313.0 551.0 L314.7 551.5 L316.3 552.7 L318.0 555.3 L319.6 556.0 L321.3 559.2 L323.1 556.5 L324.9 554.8 L326.6 554.2 L328.4 552.2 L330.2 552.2 L331.9 550.1 L333.7 547.4 L335.5 546.2 L336.3 544.0 L337.1 542.5 L337.9 540.1 L338.6 538.1 L339.4 535.1 L340.2 534.9 L341.7 535.7 L343.1 540.0 L344.6 538.4 L346.1 541.5 L347.3 539.1 L348.5 537.3 L349.7 534.4 L351.7 537.3 L353.6 536.5 L355.6 539.1 L357.4 536.5 L359.2 535.6 L360.9 536.2 L362.5 538.4 L364.2 540.3 L366.6 540.9 L368.9 543.6 L371.3 542.7 L372.5 546.4 L373.6 548.9 L374.8 549.8 L376.6 549.7 L378.4 553.3 L379.6 549.2 L380.7 549.4 L381.9 546.2 L383.1 550.1 L384.3 550.8 L385.5 553.3 L386.7 551.6 L387.9 547.3 L389.0 546.7 L390.2 545.1 L391.2 548.6 L392.3 550.1 L393.3 552.1 L394.4 554.4 L395.4 554.5 L396.1 551.6 L396.8 549.1 L397.5 547.3 L398.3 546.7 L399.0 545.4 L399.7 542.7 L400.9 542.7 L402.1 540.2 L403.2 538.3 L404.4 537.1 L405.6 534.4 L407.6 533.4 L409.5 533.0 L411.5 532.0 L413.3 529.1 L415.1 530.7 L416.8 527.5 L418.6 527.3 L419.8 530.9 L421.0 531.8 L422.2 533.2 L424.5 530.7 L426.9 529.7 L428.5 530.3 L430.0 532.7 L431.6 535.6 L433.2 538.1 L434.7 540.3 L436.3 541.5 L437.9 538.1 L439.5 535.9 L441.1 535.6 L442.0 537.6 L443.0 539.7 L443.9 540.9 L444.9 542.1 L445.8 545.1 L447.8 547.1 L449.7 546.4 L451.7 549.8 L453.2 550.8 L454.7 553.3 L456.3 556.9 L457.8 557.5 L459.3 558.8 L460.4 558.0 L461.5 554.2 L462.5 551.0 L463.6 549.8 L466.0 548.0 L468.3 550.0 L470.7 547.4 L471.7 546.4 L472.7 543.1 L473.6 540.3 L474.6 540.3 L475.6 539.2 L476.6 536.8 L479.0 537.6 L481.3 539.1 L482.5 536.4 L483.6 536.2 L484.8 535.4 L486.0 532.0 L488.4 529.2 L490.8 528.5 L492.0 528.6 L493.2 531.7 L494.3 533.9 L495.5 536.8 L496.7 538.0 L497.9 534.5 L499.0 534.4 L500.2 530.9 L501.8 533.4 L503.4 534.1 L505.0 535.6 L506.2 536.3 L507.4 540.9 L508.5 540.2 L509.7 542.7 L511.5 542.7 L513.2 540.3 L513.8 541.4 L514.4 543.4 L515.0 547.5 L515.6 548.6 L517.2 549.8 L518.7 554.3 L520.3 554.5 L523.9 555.7 L524.3 557.8 L524.8 558.7 L525.2 560.9 L525.6 563.7 L526.1 566.7 L526.5 569.9 L527.0 568.9 L527.4 572.3 L527.9 574.0 L528.5 575.4 L529.0 580.4 L529.5 579.3 L530.1 581.1 L530.6 583.2 L531.1 586.6 L531.7 590.6 L532.2 591.2 L532.7 594.8 L533.2 596.3 L533.8 599.4 L534.3 601.2 L534.8 601.1 L535.3 602.6 L535.9 607.6 L536.4 608.9 L536.9 610.1 L537.5 610.4 L538.1 614.9 L538.7 615.9 L539.2 617.9 L539.8 619.8 L540.4 621.3 L541.0 622.7 L541.6 626.7 L542.0 627.8 L542.4 630.1 L542.8 634.3 L543.2 633.1 L543.6 638.3 L544.0 637.4 L544.4 639.9 L544.8 643.7 L545.2 645.6 L545.6 646.1 L546.0 646.6 L546.4 650.3 L546.9 652.2 L547.3 653.8 L547.8 657.9 L548.2 657.2 L548.7 659.8 L549.1 663.9 L549.6 662.6 L550.0 666.0 L550.5 669.6 L550.9 671.4 L551.4 670.6 L551.8 672.6 L552.3 676.4 L552.9 677.2 L553.5 681.3 L554.2 685.0 L554.8 684.6 L555.5 688.5 L556.1 691.2 L556.8 691.2 L557.4 693.0 L558.1 697.7 L558.7 698.5 L559.4 700.2 L560.2 701.3 L561.1 705.1 L561.9 705.6 L562.8 707.5 L563.6 708.5 L564.5 713.3 L565.3 714.4 L566.0 717.9 L566.7 718.7 L567.4 721.8 L568.1 720.2 L568.8 723.9 L572.4 725.1 L573.3 726.0 L574.3 728.8 L575.2 732.5 L576.2 734.3 L577.1 734.5 L578.3 735.7 L579.5 736.9 L580.6 739.2 L581.8 741.1 L583.0 742.8 L585.4 744.4 L587.8 742.8 L589.4 743.6 L590.9 747.9 L592.5 748.7 L594.9 749.3 L597.2 748.0 L599.0 751.1 L600.8 751.8 L603.1 751.9 L605.5 749.9 L607.2 751.9 L609.0 753.0 L611.4 750.8 L613.8 749.9 L616.1 749.8 L618.5 751.1 L621.6 749.9" fill="none" stroke="#1C6CE0" stroke-width="3.0" stroke-linejoin="round"/>
<line x1="178.4" y1="571.8" x2="578.8" y2="518.2" stroke="#1C6CE0" stroke-width="2.8" stroke-dasharray="11.5 5.05" stroke-dashoffset="4.2"/>
<line x1="178.2" y1="754.1" x2="577.7" y2="793.6" stroke="#FF0000" stroke-width="3.1" stroke-dasharray="11.5 4.98" stroke-dashoffset="4.2"/>
<line x1="100.5" y1="504.3" x2="132.3" y2="504.3" stroke="#4D4D4D" stroke-width="3.2" stroke-linecap="round"/>
<line x1="100.5" y1="533.2" x2="132.3" y2="533.2" stroke="#EE3B3F" stroke-width="3.2" stroke-linecap="round"/>
<line x1="100.5" y1="565.6" x2="132.3" y2="565.6" stroke="#1C6CE0" stroke-width="3.2" stroke-linecap="round"/>
<text x="140.3" y="513.3" font-size="30.5" font-weight="bold" fill="#231815" >O</text>
<text x="140.3" y="541.5" font-size="30.5" font-weight="bold" fill="#231815" >Co</text>
<text x="140.5" y="573.5" font-size="30.5" font-weight="bold" fill="#231815" >Pt</text>
<text x="171.5" y="653.6" font-size="36.5" font-weight="bold" fill="#231815" >Pt</text>
<text x="214.6" y="653.6" font-size="36.5" font-weight="bold" fill="#231815" >Pt</text>
<text x="269.6" y="653.6" font-size="36.5" font-weight="bold" fill="#231815" >Pt</text>
<text x="331.3" y="653.6" font-size="36.5" font-weight="bold" fill="#231815" >Pt</text>
<text x="406.1" y="653.6" font-size="36.5" font-weight="bold" fill="#231815" >Pt</text>
<text x="487.7" y="653.6" font-size="36.5" font-weight="bold" fill="#231815" >Pt</text>
<text x="185.2" y="738.6" font-size="36.5" font-weight="bold" fill="#231815" >Co</text>
<text x="236" y="738.6" font-size="36.5" font-weight="bold" fill="#231815" >Co</text>
<text x="294" y="738.6" font-size="36.5" font-weight="bold" fill="#231815" >Co</text>
<text x="361.7" y="738.6" font-size="36.5" font-weight="bold" fill="#231815" >Co</text>
<text x="436.2" y="738.6" font-size="36.5" font-weight="bold" fill="#231815" >Co</text>
<text x="86.2" y="880" font-size="37.5" font-weight="bold" fill="#000" text-anchor="middle">0</text>
<text x="215.1" y="880" font-size="37.5" font-weight="bold" fill="#000" text-anchor="middle">5</text>
<text x="344.5" y="880" font-size="37.5" font-weight="bold" fill="#000" text-anchor="middle">10</text>
<text x="476.6" y="880" font-size="37.5" font-weight="bold" fill="#000" text-anchor="middle">15</text>
<text x="609.3" y="880" font-size="37.5" font-weight="bold" fill="#000" text-anchor="middle">20</text>
<text x="363.7" y="922.3" font-size="36.3" font-weight="bold" fill="#000" text-anchor="middle">Distance (nm)</text>
<text transform="translate(58.8,673) rotate(-90)" font-size="36.3" font-weight="bold" fill="#000" text-anchor="middle">Intensity (a.u.)</text>
</g>
<g id="pc">
<line x1="782.45" y1="126.5" x2="796.35" y2="126.5" stroke="#000" stroke-width="2.7"/>
<line x1="782.45" y1="349.0" x2="796.35" y2="349.0" stroke="#000" stroke-width="2.7"/>
<line x1="782.45" y1="571.5" x2="796.35" y2="571.5" stroke="#000" stroke-width="2.7"/>
<line x1="782.45" y1="794.1" x2="796.35" y2="794.1" stroke="#000" stroke-width="2.7"/>
<line x1="782.45" y1="237.8" x2="789.1500000000001" y2="237.8" stroke="#000" stroke-width="2.8"/>
<line x1="782.45" y1="460.3" x2="789.1500000000001" y2="460.3" stroke="#000" stroke-width="2.8"/>
<line x1="782.45" y1="682.8" x2="789.1500000000001" y2="682.8" stroke="#000" stroke-width="2.8"/>
<line x1="821.6" y1="838.4" x2="821.6" y2="828.0" stroke="#000" stroke-width="2.8"/>
<line x1="920.8" y1="838.4" x2="920.8" y2="828.0" stroke="#000" stroke-width="2.8"/>
<line x1="1019.9" y1="838.4" x2="1019.9" y2="828.0" stroke="#000" stroke-width="2.8"/>
<line x1="1119.0" y1="838.4" x2="1119.0" y2="828.0" stroke="#000" stroke-width="2.8"/>
<line x1="1218.2" y1="838.4" x2="1218.2" y2="828.0" stroke="#000" stroke-width="2.8"/>
<line x1="871.2" y1="838.4" x2="871.2" y2="833.0" stroke="#000" stroke-width="2.8"/>
<line x1="970.3" y1="838.4" x2="970.3" y2="833.0" stroke="#000" stroke-width="2.8"/>
<line x1="1069.5" y1="838.4" x2="1069.5" y2="833.0" stroke="#000" stroke-width="2.8"/>
<line x1="1168.6" y1="838.4" x2="1168.6" y2="833.0" stroke="#000" stroke-width="2.8"/>
<path d="M1203.0 98.0 L1193.8 96.8 L1184.7 95.5 L1175.5 94.3 L1166.3 93.2 L1157.2 92.2 L1148.0 91.3 L1138.8 90.7 L1129.6 90.2 L1120.5 89.7 L1111.3 90.7 L1102.1 89.0 L1093.0 89.3 L1083.8 90.6 L1074.6 89.4 L1065.5 89.0 L1056.3 88.9 L1047.1 90.1 L1037.9 89.6 L1028.8 91.2 L1019.6 90.9 L1010.4 91.2 L1001.3 89.4 L992.1 89.0 L982.9 89.0 L973.8 90.0 L964.6 90.5 L956.3 114.3 L946.9 184.0 L938.0 208.2 L928.8 222.5 L919.4 231.5 L910.5 236.5 L901.4 239.0 L892.2 240.3 L883.0 240.6 L873.9 240.4 L864.7 240.2 L855.5 240.0 L846.4 239.7 L837.4 239.4 L837.4 239.3 L846.6 239.5 L855.7 240.7 L864.9 242.0 L874.0 242.9 L883.2 243.8 L892.3 244.8 L901.5 245.1 L910.6 244.6 L919.8 247.1 L928.9 246.1 L938.1 246.8 L947.3 246.3 L956.4 247.2 L965.6 245.9 L974.7 246.0 L983.9 246.0 L993.0 245.8 L1002.2 247.5 L1011.3 246.8 L1020.5 246.2 L1029.7 246.4 L1038.8 247.8 L1048.0 246.6 L1057.1 246.0 L1066.3 247.3 L1075.4 247.0 L1083.7 224.2 L1092.7 160.4 L1101.8 134.7 L1111.0 114.9 L1120.2 105.1 L1129.4 98.9 L1138.6 96.6 L1147.8 96.8 L1157.0 97.0 L1166.2 97.3 L1175.4 97.6 L1184.6 98.0 L1193.8 98.5 L1203.0 98.8" fill="none" stroke="#1E6FDF" stroke-width="2.4" stroke-linejoin="round"/>
<path d="M1203.0 90.1 L1210.9 98.0 L1203.0 105.9 L1195.1 98.0Z" fill="#1E6FDF"/>
<path d="M1193.8 88.9 L1201.7 96.8 L1193.8 104.7 L1185.9 96.8Z" fill="#1E6FDF"/>
<path d="M1184.7 87.6 L1192.6 95.5 L1184.7 103.4 L1176.8 95.5Z" fill="#1E6FDF"/>
<path d="M1175.5 86.4 L1183.4 94.3 L1175.5 102.2 L1167.6 94.3Z" fill="#1E6FDF"/>
<path d="M1166.3 85.3 L1174.2 93.2 L1166.3 101.1 L1158.4 93.2Z" fill="#1E6FDF"/>
<path d="M1157.2 84.3 L1165.1 92.2 L1157.2 100.1 L1149.2 92.2Z" fill="#1E6FDF"/>
<path d="M1148.0 83.4 L1155.9 91.3 L1148.0 99.2 L1140.1 91.3Z" fill="#1E6FDF"/>
<path d="M1138.8 82.8 L1146.7 90.7 L1138.8 98.6 L1130.9 90.7Z" fill="#1E6FDF"/>
<path d="M1129.6 82.3 L1137.5 90.2 L1129.6 98.1 L1121.7 90.2Z" fill="#1E6FDF"/>
<path d="M1120.5 81.8 L1128.4 89.7 L1120.5 97.6 L1112.6 89.7Z" fill="#1E6FDF"/>
<path d="M1111.3 82.8 L1119.2 90.7 L1111.3 98.6 L1103.4 90.7Z" fill="#1E6FDF"/>
<path d="M1102.1 81.1 L1110.0 89.0 L1102.1 96.9 L1094.2 89.0Z" fill="#1E6FDF"/>
<path d="M1093.0 81.4 L1100.9 89.3 L1093.0 97.2 L1085.1 89.3Z" fill="#1E6FDF"/>
<path d="M1083.8 82.7 L1091.7 90.6 L1083.8 98.5 L1075.9 90.6Z" fill="#1E6FDF"/>
<path d="M1074.6 81.5 L1082.5 89.4 L1074.6 97.3 L1066.7 89.4Z" fill="#1E6FDF"/>
<path d="M1065.5 81.1 L1073.4 89.0 L1065.5 96.9 L1057.5 89.0Z" fill="#1E6FDF"/>
<path d="M1056.3 81.0 L1064.2 88.9 L1056.3 96.8 L1048.4 88.9Z" fill="#1E6FDF"/>
<path d="M1047.1 82.2 L1055.0 90.1 L1047.1 98.0 L1039.2 90.1Z" fill="#1E6FDF"/>
<path d="M1037.9 81.7 L1045.8 89.6 L1037.9 97.5 L1030.0 89.6Z" fill="#1E6FDF"/>
<path d="M1028.8 83.3 L1036.7 91.2 L1028.8 99.1 L1020.9 91.2Z" fill="#1E6FDF"/>
<path d="M1019.6 83.0 L1027.5 90.9 L1019.6 98.8 L1011.7 90.9Z" fill="#1E6FDF"/>
<path d="M1010.4 83.3 L1018.3 91.2 L1010.4 99.1 L1002.5 91.2Z" fill="#1E6FDF"/>
<path d="M1001.3 81.5 L1009.2 89.4 L1001.3 97.3 L993.4 89.4Z" fill="#1E6FDF"/>
<path d="M992.1 81.1 L1000.0 89.0 L992.1 96.9 L984.2 89.0Z" fill="#1E6FDF"/>
<path d="M982.9 81.1 L990.8 89.0 L982.9 96.9 L975.0 89.0Z" fill="#1E6FDF"/>
<path d="M973.8 82.1 L981.6 90.0 L973.8 97.9 L965.9 90.0Z" fill="#1E6FDF"/>
<path d="M964.6 82.6 L972.5 90.5 L964.6 98.4 L956.7 90.5Z" fill="#1E6FDF"/>
<path d="M956.3 106.4 L964.2 114.3 L956.3 122.2 L948.4 114.3Z" fill="#1E6FDF"/>
<path d="M946.9 176.1 L954.8 184.0 L946.9 191.9 L939.0 184.0Z" fill="#1E6FDF"/>
<path d="M938.0 200.3 L945.9 208.2 L938.0 216.1 L930.1 208.2Z" fill="#1E6FDF"/>
<path d="M928.8 214.6 L936.7 222.5 L928.8 230.4 L920.9 222.5Z" fill="#1E6FDF"/>
<path d="M919.4 223.6 L927.3 231.5 L919.4 239.4 L911.5 231.5Z" fill="#1E6FDF"/>
<path d="M910.5 228.6 L918.4 236.5 L910.5 244.4 L902.6 236.5Z" fill="#1E6FDF"/>
<path d="M901.4 231.1 L909.3 239.0 L901.4 246.9 L893.5 239.0Z" fill="#1E6FDF"/>
<path d="M892.2 232.4 L900.1 240.3 L892.2 248.2 L884.3 240.3Z" fill="#1E6FDF"/>
<path d="M883.0 232.7 L890.9 240.6 L883.0 248.5 L875.1 240.6Z" fill="#1E6FDF"/>
<path d="M873.9 232.5 L881.8 240.4 L873.9 248.3 L866.0 240.4Z" fill="#1E6FDF"/>
<path d="M864.7 232.3 L872.6 240.2 L864.7 248.1 L856.8 240.2Z" fill="#1E6FDF"/>
<path d="M855.5 232.1 L863.4 240.0 L855.5 247.9 L847.6 240.0Z" fill="#1E6FDF"/>
<path d="M846.4 231.8 L854.3 239.7 L846.4 247.6 L838.5 239.7Z" fill="#1E6FDF"/>
<path d="M837.4 231.5 L845.3 239.4 L837.4 247.3 L829.5 239.4Z" fill="#1E6FDF"/>
<path d="M837.4 231.4 L845.3 239.3 L837.4 247.2 L829.5 239.3Z" fill="#1E6FDF"/>
<path d="M846.6 231.6 L854.5 239.5 L846.6 247.4 L838.7 239.5Z" fill="#1E6FDF"/>
<path d="M855.7 232.8 L863.6 240.7 L855.7 248.6 L847.8 240.7Z" fill="#1E6FDF"/>
<path d="M864.9 234.1 L872.8 242.0 L864.9 249.9 L857.0 242.0Z" fill="#1E6FDF"/>
<path d="M874.0 235.0 L881.9 242.9 L874.0 250.8 L866.1 242.9Z" fill="#1E6FDF"/>
<path d="M883.2 235.9 L891.1 243.8 L883.2 251.7 L875.3 243.8Z" fill="#1E6FDF"/>
<path d="M892.3 236.9 L900.2 244.8 L892.3 252.7 L884.4 244.8Z" fill="#1E6FDF"/>
<path d="M901.5 237.2 L909.4 245.1 L901.5 253.0 L893.6 245.1Z" fill="#1E6FDF"/>
<path d="M910.6 236.7 L918.5 244.6 L910.6 252.5 L902.7 244.6Z" fill="#1E6FDF"/>
<path d="M919.8 239.2 L927.7 247.1 L919.8 255.0 L911.9 247.1Z" fill="#1E6FDF"/>
<path d="M928.9 238.2 L936.8 246.1 L928.9 254.0 L921.0 246.1Z" fill="#1E6FDF"/>
<path d="M938.1 238.9 L946.0 246.8 L938.1 254.7 L930.2 246.8Z" fill="#1E6FDF"/>
<path d="M947.3 238.4 L955.2 246.3 L947.3 254.2 L939.4 246.3Z" fill="#1E6FDF"/>
<path d="M956.4 239.3 L964.3 247.2 L956.4 255.1 L948.5 247.2Z" fill="#1E6FDF"/>
<path d="M965.6 238.0 L973.5 245.9 L965.6 253.8 L957.7 245.9Z" fill="#1E6FDF"/>
<path d="M974.7 238.1 L982.6 246.0 L974.7 253.9 L966.8 246.0Z" fill="#1E6FDF"/>
<path d="M983.9 238.1 L991.8 246.0 L983.9 253.9 L976.0 246.0Z" fill="#1E6FDF"/>
<path d="M993.0 237.9 L1000.9 245.8 L993.0 253.7 L985.1 245.8Z" fill="#1E6FDF"/>
<path d="M1002.2 239.6 L1010.1 247.5 L1002.2 255.4 L994.3 247.5Z" fill="#1E6FDF"/>
<path d="M1011.3 238.9 L1019.2 246.8 L1011.3 254.7 L1003.4 246.8Z" fill="#1E6FDF"/>
<path d="M1020.5 238.3 L1028.4 246.2 L1020.5 254.1 L1012.6 246.2Z" fill="#1E6FDF"/>
<path d="M1029.7 238.5 L1037.6 246.4 L1029.7 254.3 L1021.8 246.4Z" fill="#1E6FDF"/>
<path d="M1038.8 239.9 L1046.7 247.8 L1038.8 255.7 L1030.9 247.8Z" fill="#1E6FDF"/>
<path d="M1048.0 238.7 L1055.9 246.6 L1048.0 254.5 L1040.1 246.6Z" fill="#1E6FDF"/>
<path d="M1057.1 238.1 L1065.0 246.0 L1057.1 253.9 L1049.2 246.0Z" fill="#1E6FDF"/>
<path d="M1066.3 239.4 L1074.2 247.3 L1066.3 255.2 L1058.4 247.3Z" fill="#1E6FDF"/>
<path d="M1075.4 239.1 L1083.3 247.0 L1075.4 254.9 L1067.5 247.0Z" fill="#1E6FDF"/>
<path d="M1083.7 216.3 L1091.6 224.2 L1083.7 232.1 L1075.8 224.2Z" fill="#1E6FDF"/>
<path d="M1092.7 152.5 L1100.6 160.4 L1092.7 168.3 L1084.8 160.4Z" fill="#1E6FDF"/>
<path d="M1101.8 126.8 L1109.7 134.7 L1101.8 142.6 L1093.9 134.7Z" fill="#1E6FDF"/>
<path d="M1111.0 107.0 L1118.9 114.9 L1111.0 122.8 L1103.1 114.9Z" fill="#1E6FDF"/>
<path d="M1120.2 97.2 L1128.1 105.1 L1120.2 113.0 L1112.3 105.1Z" fill="#1E6FDF"/>
<path d="M1129.4 91.0 L1137.3 98.9 L1129.4 106.8 L1121.5 98.9Z" fill="#1E6FDF"/>
<path d="M1138.6 88.7 L1146.5 96.6 L1138.6 104.5 L1130.7 96.6Z" fill="#1E6FDF"/>
<path d="M1147.8 88.9 L1155.7 96.8 L1147.8 104.7 L1139.9 96.8Z" fill="#1E6FDF"/>
<path d="M1157.0 89.1 L1164.9 97.0 L1157.0 104.9 L1149.1 97.0Z" fill="#1E6FDF"/>
<path d="M1166.2 89.4 L1174.1 97.3 L1166.2 105.2 L1158.3 97.3Z" fill="#1E6FDF"/>
<path d="M1175.4 89.7 L1183.3 97.6 L1175.4 105.5 L1167.5 97.6Z" fill="#1E6FDF"/>
<path d="M1184.6 90.1 L1192.5 98.0 L1184.6 105.9 L1176.7 98.0Z" fill="#1E6FDF"/>
<path d="M1193.8 90.6 L1201.7 98.5 L1193.8 106.4 L1185.9 98.5Z" fill="#1E6FDF"/>
<path d="M1203.0 90.9 L1210.9 98.8 L1203.0 106.7 L1195.1 98.8Z" fill="#1E6FDF"/>
<path d="M854.2 331.0 L861.7 344.3 L846.7 344.3Z" fill="#38AD6C"/>
<path d="M858.3 331.1 L865.8 344.4 L850.8 344.4Z" fill="#38AD6C"/>
<path d="M862.5 331.3 L870.0 344.6 L855.0 344.6Z" fill="#38AD6C"/>
<path d="M866.6 331.6 L874.1 344.9 L859.1 344.9Z" fill="#38AD6C"/>
<path d="M870.8 332.1 L878.3 345.4 L863.3 345.4Z" fill="#38AD6C"/>
<path d="M874.9 332.6 L882.4 345.9 L867.4 345.9Z" fill="#38AD6C"/>
<path d="M879.1 333.1 L886.6 346.4 L871.6 346.4Z" fill="#38AD6C"/>
<path d="M883.2 333.6 L890.7 346.9 L875.7 346.9Z" fill="#38AD6C"/>
<path d="M887.4 334.0 L894.9 347.3 L879.9 347.3Z" fill="#38AD6C"/>
<path d="M891.5 334.4 L899.0 347.7 L884.0 347.7Z" fill="#38AD6C"/>
<path d="M895.6 334.8 L903.1 348.1 L888.1 348.1Z" fill="#38AD6C"/>
<path d="M899.8 335.0 L907.3 348.3 L892.3 348.3Z" fill="#38AD6C"/>
<path d="M903.9 335.0 L911.4 348.3 L896.4 348.3Z" fill="#38AD6C"/>
<path d="M908.1 334.9 L915.6 348.2 L900.6 348.2Z" fill="#38AD6C"/>
<path d="M912.2 334.8 L919.7 348.1 L904.7 348.1Z" fill="#38AD6C"/>
<path d="M916.4 334.7 L923.9 348.0 L908.9 348.0Z" fill="#38AD6C"/>
<path d="M920.5 334.4 L928.0 347.7 L913.0 347.7Z" fill="#38AD6C"/>
<path d="M924.7 334.2 L932.2 347.5 L917.2 347.5Z" fill="#38AD6C"/>
<path d="M928.8 333.9 L936.3 347.2 L921.3 347.2Z" fill="#38AD6C"/>
<path d="M933.0 333.7 L940.5 347.0 L925.5 347.0Z" fill="#38AD6C"/>
<path d="M937.1 333.4 L944.6 346.7 L929.6 346.7Z" fill="#38AD6C"/>
<path d="M941.2 333.1 L948.7 346.4 L933.7 346.4Z" fill="#38AD6C"/>
<path d="M945.4 332.9 L952.9 346.2 L937.9 346.2Z" fill="#38AD6C"/>
<path d="M949.5 332.7 L957.0 346.0 L942.0 346.0Z" fill="#38AD6C"/>
<path d="M953.7 332.6 L961.2 345.9 L946.2 345.9Z" fill="#38AD6C"/>
<path d="M957.8 332.5 L965.3 345.8 L950.3 345.8Z" fill="#38AD6C"/>
<path d="M962.0 332.5 L969.5 345.8 L954.5 345.8Z" fill="#38AD6C"/>
<path d="M966.1 332.4 L973.6 345.7 L958.6 345.7Z" fill="#38AD6C"/>
<path d="M970.3 332.2 L977.8 345.5 L962.8 345.5Z" fill="#38AD6C"/>
<path d="M974.4 332.0 L981.9 345.3 L966.9 345.3Z" fill="#38AD6C"/>
<path d="M978.5 331.7 L986.0 345.0 L971.0 345.0Z" fill="#38AD6C"/>
<path d="M982.7 331.4 L990.2 344.7 L975.2 344.7Z" fill="#38AD6C"/>
<path d="M986.8 331.1 L994.3 344.4 L979.3 344.4Z" fill="#38AD6C"/>
<path d="M991.0 330.8 L998.5 344.1 L983.5 344.1Z" fill="#38AD6C"/>
<path d="M995.1 330.4 L1002.6 343.7 L987.6 343.7Z" fill="#38AD6C"/>
<path d="M999.3 330.1 L1006.8 343.4 L991.8 343.4Z" fill="#38AD6C"/>
<path d="M1003.4 329.9 L1010.9 343.2 L995.9 343.2Z" fill="#38AD6C"/>
<path d="M1007.6 329.7 L1015.1 343.0 L1000.1 343.0Z" fill="#38AD6C"/>
<path d="M1011.7 329.5 L1019.2 342.8 L1004.2 342.8Z" fill="#38AD6C"/>
<path d="M1015.9 329.5 L1023.4 342.8 L1008.4 342.8Z" fill="#38AD6C"/>
<path d="M1019.9 337.6 L1027.4 350.9 L1012.4 350.9Z" fill="#38AD6C"/>
<path d="M1024.1 337.2 L1031.6 350.5 L1016.6 350.5Z" fill="#38AD6C"/>
<path d="M1028.2 336.6 L1035.7 349.9 L1020.7 349.9Z" fill="#38AD6C"/>
<path d="M1032.4 336.3 L1039.9 349.6 L1024.9 349.6Z" fill="#38AD6C"/>
<path d="M1036.6 336.3 L1044.1 349.6 L1029.1 349.6Z" fill="#38AD6C"/>
<path d="M1040.8 336.4 L1048.3 349.7 L1033.3 349.7Z" fill="#38AD6C"/>
<path d="M1044.9 336.5 L1052.4 349.8 L1037.4 349.8Z" fill="#38AD6C"/>
<path d="M1049.1 336.7 L1056.6 350.0 L1041.6 350.0Z" fill="#38AD6C"/>
<path d="M1053.3 336.9 L1060.8 350.2 L1045.8 350.2Z" fill="#38AD6C"/>
<path d="M1057.4 337.1 L1064.9 350.4 L1049.9 350.4Z" fill="#38AD6C"/>
<path d="M1061.6 337.3 L1069.1 350.6 L1054.1 350.6Z" fill="#38AD6C"/>
<path d="M1065.8 337.6 L1073.3 350.9 L1058.3 350.9Z" fill="#38AD6C"/>
<path d="M1069.9 337.9 L1077.4 351.2 L1062.4 351.2Z" fill="#38AD6C"/>
<path d="M1074.1 338.2 L1081.6 351.5 L1066.6 351.5Z" fill="#38AD6C"/>
<path d="M1078.3 338.5 L1085.8 351.8 L1070.8 351.8Z" fill="#38AD6C"/>
<path d="M1082.5 338.8 L1090.0 352.1 L1075.0 352.1Z" fill="#38AD6C"/>
<path d="M1086.6 339.1 L1094.1 352.4 L1079.1 352.4Z" fill="#38AD6C"/>
<path d="M1090.8 339.4 L1098.3 352.7 L1083.3 352.7Z" fill="#38AD6C"/>
<path d="M1095.0 339.7 L1102.5 353.0 L1087.5 353.0Z" fill="#38AD6C"/>
<path d="M1099.1 339.9 L1106.6 353.2 L1091.6 353.2Z" fill="#38AD6C"/>
<path d="M1103.3 340.2 L1110.8 353.5 L1095.8 353.5Z" fill="#38AD6C"/>
<path d="M1107.5 340.5 L1115.0 353.8 L1100.0 353.8Z" fill="#38AD6C"/>
<path d="M1111.6 340.7 L1119.1 354.0 L1104.1 354.0Z" fill="#38AD6C"/>
<path d="M1115.8 340.9 L1123.3 354.2 L1108.3 354.2Z" fill="#38AD6C"/>
<path d="M1120.0 341.0 L1127.5 354.3 L1112.5 354.3Z" fill="#38AD6C"/>
<path d="M1124.2 341.2 L1131.7 354.5 L1116.7 354.5Z" fill="#38AD6C"/>
<path d="M1128.3 341.3 L1135.8 354.6 L1120.8 354.6Z" fill="#38AD6C"/>
<path d="M1132.5 341.3 L1140.0 354.6 L1125.0 354.6Z" fill="#38AD6C"/>
<path d="M1136.7 341.3 L1144.2 354.6 L1129.2 354.6Z" fill="#38AD6C"/>
<path d="M1140.8 341.0 L1148.3 354.3 L1133.3 354.3Z" fill="#38AD6C"/>
<path d="M1145.0 340.6 L1152.5 353.9 L1137.5 353.9Z" fill="#38AD6C"/>
<path d="M1149.2 340.0 L1156.7 353.3 L1141.7 353.3Z" fill="#38AD6C"/>
<path d="M1153.3 339.4 L1160.8 352.7 L1145.8 352.7Z" fill="#38AD6C"/>
<path d="M1157.5 338.7 L1165.0 352.0 L1150.0 352.0Z" fill="#38AD6C"/>
<path d="M1161.7 337.9 L1169.2 351.2 L1154.2 351.2Z" fill="#38AD6C"/>
<path d="M1165.9 337.2 L1173.4 350.5 L1158.4 350.5Z" fill="#38AD6C"/>
<path d="M1170.0 336.5 L1177.5 349.8 L1162.5 349.8Z" fill="#38AD6C"/>
<path d="M1174.2 336.0 L1181.7 349.3 L1166.7 349.3Z" fill="#38AD6C"/>
<path d="M1178.4 335.6 L1185.9 348.9 L1170.9 348.9Z" fill="#38AD6C"/>
<path d="M1182.5 335.3 L1190.0 348.6 L1175.0 348.6Z" fill="#38AD6C"/>
<path d="M1015.8 337.0 L1023.3 350.3 L1008.3 350.3Z" fill="#38AD6C"/>
<path d="M1011.7 337.0 L1019.2 350.3 L1004.2 350.3Z" fill="#38AD6C"/>
<path d="M1007.5 337.1 L1015.0 350.4 L1000.0 350.4Z" fill="#38AD6C"/>
<path d="M1003.4 337.2 L1010.9 350.5 L995.9 350.5Z" fill="#38AD6C"/>
<path d="M999.2 337.4 L1006.7 350.7 L991.7 350.7Z" fill="#38AD6C"/>
<path d="M995.1 337.5 L1002.6 350.8 L987.6 350.8Z" fill="#38AD6C"/>
<path d="M990.9 337.7 L998.4 351.0 L983.4 351.0Z" fill="#38AD6C"/>
<path d="M986.8 338.0 L994.3 351.3 L979.3 351.3Z" fill="#38AD6C"/>
<path d="M982.6 338.2 L990.1 351.5 L975.1 351.5Z" fill="#38AD6C"/>
<path d="M978.5 338.5 L986.0 351.8 L971.0 351.8Z" fill="#38AD6C"/>
<path d="M974.4 338.7 L981.9 352.0 L966.9 352.0Z" fill="#38AD6C"/>
<path d="M970.2 339.0 L977.7 352.3 L962.7 352.3Z" fill="#38AD6C"/>
<path d="M966.1 339.2 L973.6 352.5 L958.6 352.5Z" fill="#38AD6C"/>
<path d="M961.9 339.4 L969.4 352.7 L954.4 352.7Z" fill="#38AD6C"/>
<path d="M957.8 339.7 L965.3 353.0 L950.3 353.0Z" fill="#38AD6C"/>
<path d="M953.6 339.9 L961.1 353.2 L946.1 353.2Z" fill="#38AD6C"/>
<path d="M949.5 340.0 L957.0 353.3 L942.0 353.3Z" fill="#38AD6C"/>
<path d="M945.3 340.2 L952.8 353.5 L937.8 353.5Z" fill="#38AD6C"/>
<path d="M941.2 340.2 L948.7 353.5 L933.7 353.5Z" fill="#38AD6C"/>
<path d="M937.0 340.3 L944.5 353.6 L929.5 353.6Z" fill="#38AD6C"/>
<path d="M932.9 340.3 L940.4 353.6 L925.4 353.6Z" fill="#38AD6C"/>
<path d="M928.8 340.3 L936.3 353.6 L921.3 353.6Z" fill="#38AD6C"/>
<path d="M924.6 340.3 L932.1 353.6 L917.1 353.6Z" fill="#38AD6C"/>
<path d="M920.5 340.3 L928.0 353.6 L913.0 353.6Z" fill="#38AD6C"/>
<path d="M916.3 340.3 L923.8 353.6 L908.8 353.6Z" fill="#38AD6C"/>
<path d="M912.2 340.3 L919.7 353.6 L904.7 353.6Z" fill="#38AD6C"/>
<path d="M908.0 340.3 L915.5 353.6 L900.5 353.6Z" fill="#38AD6C"/>
<path d="M903.9 340.3 L911.4 353.6 L896.4 353.6Z" fill="#38AD6C"/>
<path d="M899.7 340.3 L907.2 353.6 L892.2 353.6Z" fill="#38AD6C"/>
<path d="M895.6 340.3 L903.1 353.6 L888.1 353.6Z" fill="#38AD6C"/>
<path d="M891.5 340.3 L899.0 353.6 L884.0 353.6Z" fill="#38AD6C"/>
<path d="M887.3 340.3 L894.8 353.6 L879.8 353.6Z" fill="#38AD6C"/>
<path d="M883.2 339.9 L890.7 353.2 L875.7 353.2Z" fill="#38AD6C"/>
<path d="M879.0 338.9 L886.5 352.2 L871.5 352.2Z" fill="#38AD6C"/>
<path d="M874.9 337.4 L882.4 350.7 L867.4 350.7Z" fill="#38AD6C"/>
<path d="M870.7 335.7 L878.2 349.0 L863.2 349.0Z" fill="#38AD6C"/>
<path d="M866.6 334.0 L874.1 347.3 L859.1 347.3Z" fill="#38AD6C"/>
<path d="M862.4 332.5 L869.9 345.8 L854.9 345.8Z" fill="#38AD6C"/>
<path d="M858.3 331.4 L865.8 344.7 L850.8 344.7Z" fill="#38AD6C"/>
<path d="M854.1 331.0 L861.6 344.3 L846.6 344.3Z" fill="#38AD6C"/>
<path d="M791.5 429.3 L800.6 426.4 L809.8 427.6 L819.0 428.7 L828.1 428.8 L837.2 429.0 L846.4 426.2 L855.5 427.0 L864.7 426.5 L873.9 426.7 L883.0 429.2 L892.1 428.0 L901.3 429.1 L910.4 427.3 L919.6 428.9 L928.8 427.5 L937.9 426.9 L947.0 428.6 L956.2 429.1 L965.3 426.4 L974.5 428.0 L983.6 428.1 L992.8 426.8 L1001.9 427.3 L1011.1 426.6 L1020.2 426.8 L1029.4 426.9 L1038.5 428.0 L1047.7 428.2 L1056.8 426.8 L1066.0 426.1 L1075.1 427.1 L1084.3 428.3 L1093.4 426.7 L1102.6 427.1 L1111.8 435.8 L1120.6 482.8 L1129.5 512.4 L1138.7 537.8 L1147.6 552.0 L1157.2 557.0 L1166.1 560.9 L1175.3 566.3 L1184.2 568.6 L1193.8 571.3 L1202.6 573.2 L1211.9 575.1 L1220.7 576.3 L1230.3 577.1 L1239.2 577.8 L1248.4 578.2 L1239.2 578.2 L1230.1 579.8 L1220.9 579.1 L1211.8 577.9 L1202.6 578.0 L1193.4 578.7 L1184.3 579.1 L1175.1 579.4 L1166.0 577.9 L1156.8 578.1 L1147.7 579.5 L1138.5 578.8 L1129.3 578.4 L1120.2 578.5 L1111.0 580.2 L1101.9 578.5 L1092.7 579.2 L1083.5 578.6 L1074.4 578.8 L1065.2 579.9 L1056.1 580.3 L1046.9 578.6 L1037.7 578.2 L1028.6 579.6 L1019.4 578.2 L1010.3 577.7 L1001.1 580.0 L992.0 578.8 L982.8 579.8 L973.6 578.8 L964.5 580.0 L955.3 578.9 L946.2 578.1 L937.0 577.7 L929.0 566.3 L920.1 525.1 L910.9 489.3 L902.0 466.2 L892.8 459.7 L883.2 452.0 L874.3 444.3 L864.7 441.6 L855.0 438.5 L846.0 436.6 L837.7 434.6 L828.5 433.0 L819.3 431.6 L810.0 430.6 L800.8 429.9 L791.5 429.2" fill="none" stroke="#EE3B3F" stroke-width="2.4" stroke-linejoin="round"/>
<circle cx="791.5" cy="429.3" r="6.6" fill="#FF0000"/>
<circle cx="800.6" cy="426.4" r="6.6" fill="#FF0000"/>
<circle cx="809.8" cy="427.6" r="6.6" fill="#FF0000"/>
<circle cx="819.0" cy="428.7" r="6.6" fill="#FF0000"/>
<circle cx="828.1" cy="428.8" r="6.6" fill="#FF0000"/>
<circle cx="837.2" cy="429.0" r="6.6" fill="#FF0000"/>
<circle cx="846.4" cy="426.2" r="6.6" fill="#FF0000"/>
<circle cx="855.5" cy="427.0" r="6.6" fill="#FF0000"/>
<circle cx="864.7" cy="426.5" r="6.6" fill="#FF0000"/>
<circle cx="873.9" cy="426.7" r="6.6" fill="#FF0000"/>
<circle cx="883.0" cy="429.2" r="6.6" fill="#FF0000"/>
<circle cx="892.1" cy="428.0" r="6.6" fill="#FF0000"/>
<circle cx="901.3" cy="429.1" r="6.6" fill="#FF0000"/>
<circle cx="910.4" cy="427.3" r="6.6" fill="#FF0000"/>
<circle cx="919.6" cy="428.9" r="6.6" fill="#FF0000"/>
<circle cx="928.8" cy="427.5" r="6.6" fill="#FF0000"/>
<circle cx="937.9" cy="426.9" r="6.6" fill="#FF0000"/>
<circle cx="947.0" cy="428.6" r="6.6" fill="#FF0000"/>
<circle cx="956.2" cy="429.1" r="6.6" fill="#FF0000"/>
<circle cx="965.3" cy="426.4" r="6.6" fill="#FF0000"/>
<circle cx="974.5" cy="428.0" r="6.6" fill="#FF0000"/>
<circle cx="983.6" cy="428.1" r="6.6" fill="#FF0000"/>
<circle cx="992.8" cy="426.8" r="6.6" fill="#FF0000"/>
<circle cx="1001.9" cy="427.3" r="6.6" fill="#FF0000"/>
<circle cx="1011.1" cy="426.6" r="6.6" fill="#FF0000"/>
<circle cx="1020.2" cy="426.8" r="6.6" fill="#FF0000"/>
<circle cx="1029.4" cy="426.9" r="6.6" fill="#FF0000"/>
<circle cx="1038.5" cy="428.0" r="6.6" fill="#FF0000"/>
<circle cx="1047.7" cy="428.2" r="6.6" fill="#FF0000"/>
<circle cx="1056.8" cy="426.8" r="6.6" fill="#FF0000"/>
<circle cx="1066.0" cy="426.1" r="6.6" fill="#FF0000"/>
<circle cx="1075.1" cy="427.1" r="6.6" fill="#FF0000"/>
<circle cx="1084.3" cy="428.3" r="6.6" fill="#FF0000"/>
<circle cx="1093.4" cy="426.7" r="6.6" fill="#FF0000"/>
<circle cx="1102.6" cy="427.1" r="6.6" fill="#FF0000"/>
<circle cx="1111.8" cy="435.8" r="6.6" fill="#FF0000"/>
<circle cx="1120.6" cy="482.8" r="6.6" fill="#FF0000"/>
<circle cx="1129.5" cy="512.4" r="6.6" fill="#FF0000"/>
<circle cx="1138.7" cy="537.8" r="6.6" fill="#FF0000"/>
<circle cx="1147.6" cy="552.0" r="6.6" fill="#FF0000"/>
<circle cx="1157.2" cy="557.0" r="6.6" fill="#FF0000"/>
<circle cx="1166.1" cy="560.9" r="6.6" fill="#FF0000"/>
<circle cx="1175.3" cy="566.3" r="6.6" fill="#FF0000"/>
<circle cx="1184.2" cy="568.6" r="6.6" fill="#FF0000"/>
<circle cx="1193.8" cy="571.3" r="6.6" fill="#FF0000"/>
<circle cx="1202.6" cy="573.2" r="6.6" fill="#FF0000"/>
<circle cx="1211.9" cy="575.1" r="6.6" fill="#FF0000"/>
<circle cx="1220.7" cy="576.3" r="6.6" fill="#FF0000"/>
<circle cx="1230.3" cy="577.1" r="6.6" fill="#FF0000"/>
<circle cx="1239.2" cy="577.8" r="6.6" fill="#FF0000"/>
<circle cx="1248.4" cy="578.2" r="6.6" fill="#FF0000"/>
<circle cx="1239.2" cy="578.2" r="6.6" fill="#FF0000"/>
<circle cx="1230.1" cy="579.8" r="6.6" fill="#FF0000"/>
<circle cx="1220.9" cy="579.1" r="6.6" fill="#FF0000"/>
<circle cx="1211.8" cy="577.9" r="6.6" fill="#FF0000"/>
<circle cx="1202.6" cy="578.0" r="6.6" fill="#FF0000"/>
<circle cx="1193.4" cy="578.7" r="6.6" fill="#FF0000"/>
<circle cx="1184.3" cy="579.1" r="6.6" fill="#FF0000"/>
<circle cx="1175.1" cy="579.4" r="6.6" fill="#FF0000"/>
<circle cx="1166.0" cy="577.9" r="6.6" fill="#FF0000"/>
<circle cx="1156.8" cy="578.1" r="6.6" fill="#FF0000"/>
<circle cx="1147.7" cy="579.5" r="6.6" fill="#FF0000"/>
<circle cx="1138.5" cy="578.8" r="6.6" fill="#FF0000"/>
<circle cx="1129.3" cy="578.4" r="6.6" fill="#FF0000"/>
<circle cx="1120.2" cy="578.5" r="6.6" fill="#FF0000"/>
<circle cx="1111.0" cy="580.2" r="6.6" fill="#FF0000"/>
<circle cx="1101.9" cy="578.5" r="6.6" fill="#FF0000"/>
<circle cx="1092.7" cy="579.2" r="6.6" fill="#FF0000"/>
<circle cx="1083.5" cy="578.6" r="6.6" fill="#FF0000"/>
<circle cx="1074.4" cy="578.8" r="6.6" fill="#FF0000"/>
<circle cx="1065.2" cy="579.9" r="6.6" fill="#FF0000"/>
<circle cx="1056.1" cy="580.3" r="6.6" fill="#FF0000"/>
<circle cx="1046.9" cy="578.6" r="6.6" fill="#FF0000"/>
<circle cx="1037.7" cy="578.2" r="6.6" fill="#FF0000"/>
<circle cx="1028.6" cy="579.6" r="6.6" fill="#FF0000"/>
<circle cx="1019.4" cy="578.2" r="6.6" fill="#FF0000"/>
<circle cx="1010.3" cy="577.7" r="6.6" fill="#FF0000"/>
<circle cx="1001.1" cy="580.0" r="6.6" fill="#FF0000"/>
<circle cx="992.0" cy="578.8" r="6.6" fill="#FF0000"/>
<circle cx="982.8" cy="579.8" r="6.6" fill="#FF0000"/>
<circle cx="973.6" cy="578.8" r="6.6" fill="#FF0000"/>
<circle cx="964.5" cy="580.0" r="6.6" fill="#FF0000"/>
<circle cx="955.3" cy="578.9" r="6.6" fill="#FF0000"/>
<circle cx="946.2" cy="578.1" r="6.6" fill="#FF0000"/>
<circle cx="937.0" cy="577.7" r="6.6" fill="#FF0000"/>
<circle cx="929.0" cy="566.3" r="6.6" fill="#FF0000"/>
<circle cx="920.1" cy="525.1" r="6.6" fill="#FF0000"/>
<circle cx="910.9" cy="489.3" r="6.6" fill="#FF0000"/>
<circle cx="902.0" cy="466.2" r="6.6" fill="#FF0000"/>
<circle cx="892.8" cy="459.7" r="6.6" fill="#FF0000"/>
<circle cx="883.2" cy="452.0" r="6.6" fill="#FF0000"/>
<circle cx="874.3" cy="444.3" r="6.6" fill="#FF0000"/>
<circle cx="864.7" cy="441.6" r="6.6" fill="#FF0000"/>
<circle cx="855.0" cy="438.5" r="6.6" fill="#FF0000"/>
<circle cx="846.0" cy="436.6" r="6.6" fill="#FF0000"/>
<circle cx="837.7" cy="434.6" r="6.6" fill="#FF0000"/>
<circle cx="828.5" cy="433.0" r="6.6" fill="#FF0000"/>
<circle cx="819.3" cy="431.6" r="6.6" fill="#FF0000"/>
<circle cx="810.0" cy="430.6" r="6.6" fill="#FF0000"/>
<circle cx="800.8" cy="429.9" r="6.6" fill="#FF0000"/>
<circle cx="791.5" cy="429.2" r="6.6" fill="#FF0000"/>
<path d="M867.4 659.5 L877.1 659.7 L886.8 660.5 L896.6 658.1 L906.3 659.7 L916.0 658.9 L925.7 659.3 L935.5 658.2 L945.2 658.6 L954.9 659.4 L964.6 660.6 L974.3 658.1 L984.1 659.3 L993.8 660.2 L1003.5 660.7 L1013.2 658.4 L1022.9 658.2 L1032.7 660.6 L1042.4 660.7 L1052.1 659.2 L1061.8 658.0 L1071.6 660.6 L1081.3 659.0 L1091.0 660.5 L1101.4 665.8 L1111.0 725.5 L1121.4 776.7 L1131.0 780.5 L1141.8 784.4 L1151.4 789.4 L1161.8 792.1 L1171.8 795.9 L1162.1 797.1 L1152.4 797.7 L1142.8 795.7 L1133.1 797.6 L1123.4 795.9 L1113.7 796.4 L1104.1 797.7 L1094.4 797.7 L1084.7 795.7 L1075.0 795.9 L1065.4 796.4 L1055.7 796.8 L1046.0 796.4 L1036.3 795.6 L1026.7 795.9 L1017.0 797.4 L1007.3 797.9 L997.6 795.3 L988.0 796.9 L978.3 797.5 L968.6 795.3 L959.0 789.0 L948.6 779.8 L938.6 729.3 L928.2 682.4 L917.8 670.8 L907.8 668.9 L897.4 663.1 L887.8 657.4 L877.5 658.5 L867.4 660.0" fill="none" stroke="#000" stroke-width="2.6" stroke-linejoin="round"/>
<rect x="861.8" y="653.9" width="11.2" height="11.2" fill="#000"/>
<rect x="871.5" y="654.1" width="11.2" height="11.2" fill="#000"/>
<rect x="881.2" y="654.9" width="11.2" height="11.2" fill="#000"/>
<rect x="891.0" y="652.5" width="11.2" height="11.2" fill="#000"/>
<rect x="900.7" y="654.1" width="11.2" height="11.2" fill="#000"/>
<rect x="910.4" y="653.3" width="11.2" height="11.2" fill="#000"/>
<rect x="920.1" y="653.7" width="11.2" height="11.2" fill="#000"/>
<rect x="929.9" y="652.6" width="11.2" height="11.2" fill="#000"/>
<rect x="939.6" y="653.0" width="11.2" height="11.2" fill="#000"/>
<rect x="949.3" y="653.8" width="11.2" height="11.2" fill="#000"/>
<rect x="959.0" y="655.0" width="11.2" height="11.2" fill="#000"/>
<rect x="968.7" y="652.5" width="11.2" height="11.2" fill="#000"/>
<rect x="978.5" y="653.7" width="11.2" height="11.2" fill="#000"/>
<rect x="988.2" y="654.6" width="11.2" height="11.2" fill="#000"/>
<rect x="997.9" y="655.1" width="11.2" height="11.2" fill="#000"/>
<rect x="1007.6" y="652.8" width="11.2" height="11.2" fill="#000"/>
<rect x="1017.3" y="652.6" width="11.2" height="11.2" fill="#000"/>
<rect x="1027.1" y="655.0" width="11.2" height="11.2" fill="#000"/>
<rect x="1036.8" y="655.1" width="11.2" height="11.2" fill="#000"/>
<rect x="1046.5" y="653.6" width="11.2" height="11.2" fill="#000"/>
<rect x="1056.2" y="652.4" width="11.2" height="11.2" fill="#000"/>
<rect x="1066.0" y="655.0" width="11.2" height="11.2" fill="#000"/>
<rect x="1075.7" y="653.4" width="11.2" height="11.2" fill="#000"/>
<rect x="1085.4" y="654.9" width="11.2" height="11.2" fill="#000"/>
<rect x="1095.8" y="660.2" width="11.2" height="11.2" fill="#000"/>
<rect x="1105.4" y="719.9" width="11.2" height="11.2" fill="#000"/>
<rect x="1115.8" y="771.1" width="11.2" height="11.2" fill="#000"/>
<rect x="1125.4" y="774.9" width="11.2" height="11.2" fill="#000"/>
<rect x="1136.2" y="778.8" width="11.2" height="11.2" fill="#000"/>
<rect x="1145.8" y="783.8" width="11.2" height="11.2" fill="#000"/>
<rect x="1156.2" y="786.5" width="11.2" height="11.2" fill="#000"/>
<rect x="1166.2" y="790.3" width="11.2" height="11.2" fill="#000"/>
<rect x="1156.5" y="791.5" width="11.2" height="11.2" fill="#000"/>
<rect x="1146.8" y="792.1" width="11.2" height="11.2" fill="#000"/>
<rect x="1137.2" y="790.1" width="11.2" height="11.2" fill="#000"/>
<rect x="1127.5" y="792.0" width="11.2" height="11.2" fill="#000"/>
<rect x="1117.8" y="790.3" width="11.2" height="11.2" fill="#000"/>
<rect x="1108.1" y="790.8" width="11.2" height="11.2" fill="#000"/>
<rect x="1098.5" y="792.1" width="11.2" height="11.2" fill="#000"/>
<rect x="1088.8" y="792.1" width="11.2" height="11.2" fill="#000"/>
<rect x="1079.1" y="790.1" width="11.2" height="11.2" fill="#000"/>
<rect x="1069.4" y="790.3" width="11.2" height="11.2" fill="#000"/>
<rect x="1059.8" y="790.8" width="11.2" height="11.2" fill="#000"/>
<rect x="1050.1" y="791.2" width="11.2" height="11.2" fill="#000"/>
<rect x="1040.4" y="790.8" width="11.2" height="11.2" fill="#000"/>
<rect x="1030.7" y="790.0" width="11.2" height="11.2" fill="#000"/>
<rect x="1021.1" y="790.3" width="11.2" height="11.2" fill="#000"/>
<rect x="1011.4" y="791.8" width="11.2" height="11.2" fill="#000"/>
<rect x="1001.7" y="792.3" width="11.2" height="11.2" fill="#000"/>
<rect x="992.0" y="789.7" width="11.2" height="11.2" fill="#000"/>
<rect x="982.4" y="791.3" width="11.2" height="11.2" fill="#000"/>
<rect x="972.7" y="791.9" width="11.2" height="11.2" fill="#000"/>
<rect x="963.0" y="789.7" width="11.2" height="11.2" fill="#000"/>
<rect x="953.4" y="783.4" width="11.2" height="11.2" fill="#000"/>
<rect x="943.0" y="774.2" width="11.2" height="11.2" fill="#000"/>
<rect x="933.0" y="723.7" width="11.2" height="11.2" fill="#000"/>
<rect x="922.6" y="676.8" width="11.2" height="11.2" fill="#000"/>
<rect x="912.2" y="665.2" width="11.2" height="11.2" fill="#000"/>
<rect x="902.2" y="663.3" width="11.2" height="11.2" fill="#000"/>
<rect x="891.8" y="657.5" width="11.2" height="11.2" fill="#000"/>
<rect x="882.2" y="651.8" width="11.2" height="11.2" fill="#000"/>
<rect x="871.9" y="652.9" width="11.2" height="11.2" fill="#000"/>
<rect x="861.8" y="654.4" width="11.2" height="11.2" fill="#000"/>
<path d="M1056.62 175.29 A36.2 36.2 0 0 0 990.75 146.30" fill="none" stroke="#1200F0" stroke-width="3.1"/>
<path d="M986.1 155.9 L986.1 141.0 L991.5 146.2 L996.9 145.1Z" fill="#1200F0"/>
<path d="M1056.01 177.08 A36.2 36.2 0 0 1 989.96 181.06" fill="none" stroke="#1200F0" stroke-width="3.1" stroke-dasharray="3.3 2.42"/>
<path d="M986.57 519.89 A36.2 36.2 0 0 1 1052.35 490.60" fill="none" stroke="#7B2A91" stroke-width="2.7"/>
<path d="M1057.8 500.6 L1057.8 486.0 L1052.4 491.1 L1047.2 490.1Z" fill="#7B2A91"/>
<path d="M987.09 521.38 A36.2 36.2 0 0 0 1053.81 524.00" fill="none" stroke="#7B2A91" stroke-width="2.7" stroke-dasharray="3.1 2.52"/>
<path d="M986.57 742.69 A36.2 36.2 0 0 1 1052.35 713.40" fill="none" stroke="#7B2A91" stroke-width="2.7"/>
<path d="M1057.8 723.4 L1057.8 708.8 L1052.4 713.9 L1047.2 712.9Z" fill="#7B2A91"/>
<path d="M987.09 744.18 A36.2 36.2 0 0 0 1053.81 746.80" fill="none" stroke="#7B2A91" stroke-width="2.7" stroke-dasharray="3.1 2.52"/>
<rect x="782.45" y="37.5" width="475.2" height="800.9" fill="none" stroke="#000" stroke-width="3.0"/>
<line x1="901.1" y1="56.6" x2="973.8" y2="56.6" stroke="#1E6FDF" stroke-width="2.3" stroke-linecap="round"/>
<line x1="901.1" y1="303.95" x2="973.8" y2="303.95" stroke="#38AD6C" stroke-width="2.3" stroke-linecap="round"/>
<line x1="901.1" y1="397.2" x2="973.8" y2="397.2" stroke="#FF0000" stroke-width="2.3" stroke-linecap="round"/>
<line x1="901.1" y1="628.3" x2="973.8" y2="628.3" stroke="#000" stroke-width="2.3" stroke-linecap="round"/>
<path d="M937.5 47.9 L945.55 56.5 L937.5 65.1 L929.45 56.5Z" fill="#1E6FDF"/>
<path d="M937.4 294.1 L945.8 309 L929 309Z" fill="#38AD6C"/>
<circle cx="937.4" cy="397.2" r="7.05" fill="#FF0000"/>
<rect x="931" y="622.2" width="13" height="12.4" fill="#000"/>
<text x="983.5" y="65.9" font-size="33.25" font-weight="bold" fill="#1E6FDF" ><tspan font-style="italic">G</tspan> = -0.4 nm</text>
<text x="983.5" y="311.6" font-size="33.25" font-weight="bold" fill="#38AD6C" ><tspan font-style="italic">G</tspan> = 0.0 nm</text>
<text x="983.5" y="405.5" font-size="33.25" font-weight="bold" fill="#FF0000" ><tspan font-style="italic">G</tspan> = +0.4 nm</text>
<text x="983.5" y="636.2" font-size="33.25" font-weight="bold" fill="#000" ><tspan font-style="italic">G</tspan> = +0.5 nm</text>
<text x="768.8" y="146.8" font-size="37" font-weight="bold" fill="#000" text-anchor="end">1</text>
<text x="768.8" y="366.3" font-size="37" font-weight="bold" fill="#000" text-anchor="end">0</text>
<text x="768.8" y="585" font-size="37" font-weight="bold" fill="#000" text-anchor="end">-1</text>
<text x="768.8" y="804.1" font-size="37" font-weight="bold" fill="#000" text-anchor="end">-2</text>
<text x="814.5" y="879.3" font-size="37.5" font-weight="bold" fill="#000" text-anchor="middle">-30</text>
<text x="913.5" y="879.3" font-size="37.5" font-weight="bold" fill="#000" text-anchor="middle">-15</text>
<text x="1019.9" y="879.3" font-size="37.5" font-weight="bold" fill="#000" text-anchor="middle">0</text>
<text x="1118.2" y="879.3" font-size="37.5" font-weight="bold" fill="#000" text-anchor="middle">15</text>
<text x="1214" y="879.3" font-size="37.5" font-weight="bold" fill="#000" text-anchor="middle">30</text>
<text x="905.2" y="922" font-size="36" font-weight="bold" fill="#000"><tspan font-style="italic">J</tspan><tspan font-size="21.3" dy="11.6" dx="1.6">e</tspan><tspan dy="-11.6" dx="0.2"> (10</tspan><tspan font-size="21.3" dy="-11.3" dx="-0.5">6</tspan><tspan dy="11.3" dx="-1.1"> A/cm</tspan><tspan font-size="21.3" dy="-11.3">2</tspan><tspan dy="11.3">)</tspan></text>
<text transform="translate(716.7,456.5) rotate(-90)" font-size="36.1" font-weight="bold" fill="#000" text-anchor="middle">Offset <tspan font-style="italic">R</tspan><tspan font-size="21" dy="9">xy</tspan><tspan dy="-9"> (Ω)</tspan></text>
</g>
<text x="10.1" y="33.8" font-size="36.5" fill="#000">(a)</text>
<text x="10.1" y="470.1" font-size="36.5" fill="#000">(b)</text>
<text x="647.8" y="32.8" font-size="36.5" fill="#000">(c)</text>
</svg></body></html>
